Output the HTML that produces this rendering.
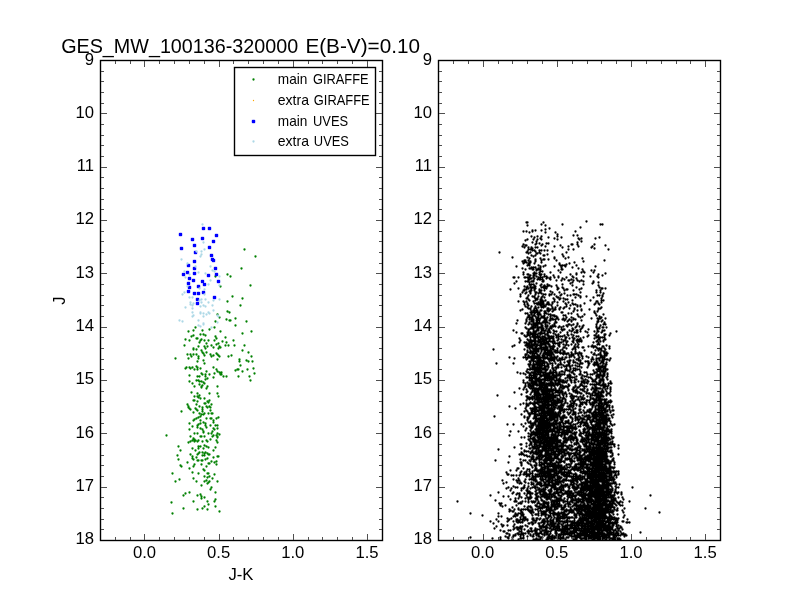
<!DOCTYPE html><html><head><meta charset="utf-8"><title>GES_MW_100136-320000</title>
<style>html,body{margin:0;padding:0;background:#fff;overflow:hidden}svg{display:block}text{font-family:"Liberation Sans",sans-serif;fill:#000}</style></head><body>
<svg width="800" height="600" viewBox="0 0 800 600">
<rect width="800" height="600" fill="#fff"/>
<g transform="translate(.5 .5)">
<path d="M457 501h0M470 513h0M470 537h0M482 515h0M490 495h0M490 521h0M492 538h0M493 349h0M493 523h0M494 416h0M494 528h0M495 460h0M495 500h0M496 363h0M496 519h0M496 526h0M497 395h0M498 449h0M498 492h0M498 513h0M498 516h0M498 521h0M499 252h0M499 503h0M500 505h0M500 530h0M500 537h0M500 539h0M501 503h0M501 516h0M501 524h0M502 480h0M502 506h0M502 526h0M503 483h0M503 496h0M503 525h0M503 531h0M504 531h0M505 505h0M505 536h0M506 472h0M506 482h0M506 488h0M506 533h0M507 424h0M507 474h0M507 518h0M507 521h0M507 525h0M507 533h0M507 537h0M508 462h0M508 474h0M508 487h0M508 496h0M508 520h0M508 530h0M508 537h0M508 538h0M509 357h0M509 406h0M509 435h0M509 456h0M509 509h0M509 511h0M509 519h0M509 534h0M509 535h0M510 289h0M510 431h0M510 470h0M510 490h0M510 499h0M510 510h0M510 530h0M511 475h0M511 488h0M511 518h0M512 257h0M512 346h0M512 493h0M512 507h0M512 511h0M512 537h0M512 539h0M513 277h0M513 330h0M513 363h0M513 424h0M513 475h0M513 479h0M513 486h0M513 492h0M513 511h0M513 516h0M513 521h0M513 526h0M513 529h0M513 535h0M513 536h0M514 277h0M514 283h0M514 345h0M514 358h0M514 392h0M514 447h0M514 501h0M514 509h0M514 515h0M514 524h0M514 528h0M515 408h0M515 487h0M515 498h0M515 500h0M515 501h0M515 513h0M515 516h0M515 534h0M515 535h0M516 266h0M516 281h0M516 323h0M516 332h0M516 470h0M516 475h0M516 480h0M516 494h0M516 501h0M516 505h0M516 514h0M516 519h0M516 520h0M516 521h0M516 527h0M517 320h0M517 372h0M517 468h0M517 482h0M517 487h0M517 493h0M517 514h0M517 515h0M517 519h0M517 522h0M517 527h0M517 529h0M517 533h0M518 277h0M518 288h0M518 301h0M518 431h0M518 468h0M518 478h0M518 480h0M518 498h0M518 503h0M518 508h0M518 509h0M518 513h0M518 520h0M518 522h0M518 529h0M518 533h0M518 534h0M518 539h0M519 338h0M519 342h0M519 388h0M519 454h0M519 475h0M519 480h0M519 483h0M519 493h0M519 494h0M519 495h0M519 496h0M519 520h0M519 527h0M519 531h0M520 294h0M520 296h0M520 310h0M520 340h0M520 373h0M520 404h0M520 444h0M520 459h0M520 462h0M520 472h0M520 474h0M520 482h0M520 502h0M520 503h0M520 510h0M520 513h0M520 517h0M520 519h0M520 522h0M520 526h0M520 528h0M520 534h0M520 536h0M520 538h0M521 333h0M521 394h0M521 414h0M521 424h0M521 437h0M521 444h0M521 448h0M521 452h0M521 453h0M521 454h0M521 462h0M521 463h0M521 464h0M521 465h0M521 471h0M521 483h0M521 488h0M521 490h0M521 497h0M521 503h0M521 509h0M521 511h0M521 514h0M521 515h0M521 528h0M521 529h0M521 531h0M521 532h0M521 534h0M521 538h0M522 246h0M522 261h0M522 268h0M522 292h0M522 309h0M522 333h0M522 453h0M522 501h0M522 512h0M522 515h0M522 519h0M522 521h0M522 522h0M522 526h0M522 533h0M523 231h0M523 244h0M523 263h0M523 272h0M523 274h0M523 290h0M523 301h0M523 357h0M523 373h0M523 380h0M523 382h0M523 389h0M523 403h0M523 426h0M523 454h0M523 460h0M523 468h0M523 474h0M523 487h0M523 488h0M523 509h0M523 514h0M523 516h0M523 517h0M523 518h0M523 533h0M523 535h0M523 537h0M523 538h0M524 247h0M524 260h0M524 262h0M524 277h0M524 286h0M524 289h0M524 290h0M524 302h0M524 304h0M524 335h0M524 342h0M524 349h0M524 387h0M524 411h0M524 416h0M524 417h0M524 437h0M524 450h0M524 451h0M524 455h0M524 472h0M524 474h0M524 481h0M524 485h0M524 487h0M524 493h0M524 506h0M524 520h0M524 529h0M525 240h0M525 245h0M525 260h0M525 269h0M525 277h0M525 281h0M525 293h0M525 306h0M525 313h0M525 323h0M525 327h0M525 336h0M525 345h0M525 354h0M525 355h0M525 357h0M525 374h0M525 383h0M525 385h0M525 386h0M525 408h0M525 423h0M525 430h0M525 460h0M525 479h0M525 482h0M525 498h0M525 501h0M525 509h0M525 517h0M525 518h0M525 519h0M525 525h0M525 533h0M526 222h0M526 231h0M526 245h0M526 252h0M526 262h0M526 287h0M526 289h0M526 292h0M526 298h0M526 301h0M526 319h0M526 320h0M526 321h0M526 328h0M526 336h0M526 342h0M526 343h0M526 345h0M526 354h0M526 359h0M526 371h0M526 377h0M526 389h0M526 392h0M526 396h0M526 400h0M526 403h0M526 404h0M526 406h0M526 410h0M526 428h0M526 443h0M526 446h0M526 451h0M526 455h0M526 471h0M526 473h0M526 474h0M526 476h0M526 490h0M526 495h0M527 222h0M527 225h0M527 239h0M527 251h0M527 257h0M527 265h0M527 274h0M527 277h0M527 281h0M527 286h0M527 297h0M527 303h0M527 304h0M527 307h0M527 313h0M527 317h0M527 332h0M527 334h0M527 335h0M527 339h0M527 343h0M527 347h0M527 350h0M527 351h0M527 352h0M527 357h0M527 358h0M527 369h0M527 372h0M527 377h0M527 382h0M527 391h0M527 396h0M527 397h0M527 398h0M527 404h0M527 411h0M527 417h0M527 419h0M527 420h0M527 456h0M527 462h0M527 469h0M527 475h0M527 488h0M527 489h0M527 490h0M527 491h0M527 493h0M527 497h0M527 507h0M527 509h0M527 519h0M527 520h0M527 526h0M527 531h0M527 536h0M528 247h0M528 249h0M528 253h0M528 260h0M528 263h0M528 274h0M528 277h0M528 279h0M528 281h0M528 288h0M528 295h0M528 299h0M528 305h0M528 308h0M528 315h0M528 316h0M528 324h0M528 329h0M528 330h0M528 331h0M528 333h0M528 340h0M528 343h0M528 345h0M528 355h0M528 364h0M528 372h0M528 384h0M528 385h0M528 386h0M528 398h0M528 405h0M528 413h0M528 418h0M528 422h0M528 433h0M528 436h0M528 439h0M528 451h0M528 463h0M528 474h0M528 483h0M528 486h0M528 492h0M528 498h0M528 499h0M528 501h0M528 502h0M528 506h0M528 509h0M528 510h0M528 523h0M528 530h0M528 533h0M529 232h0M529 258h0M529 262h0M529 264h0M529 265h0M529 268h0M529 276h0M529 279h0M529 282h0M529 284h0M529 291h0M529 300h0M529 315h0M529 316h0M529 317h0M529 319h0M529 322h0M529 323h0M529 329h0M529 335h0M529 341h0M529 342h0M529 343h0M529 346h0M529 348h0M529 352h0M529 356h0M529 357h0M529 361h0M529 364h0M529 366h0M529 369h0M529 373h0M529 375h0M529 377h0M529 378h0M529 380h0M529 383h0M529 387h0M529 397h0M529 399h0M529 403h0M529 413h0M529 415h0M529 416h0M529 426h0M529 440h0M529 445h0M529 448h0M529 456h0M529 460h0M529 469h0M529 471h0M529 474h0M529 476h0M529 479h0M529 491h0M529 493h0M529 497h0M529 498h0M529 511h0M529 523h0M529 531h0M530 249h0M530 252h0M530 261h0M530 262h0M530 268h0M530 275h0M530 278h0M530 286h0M530 287h0M530 290h0M530 292h0M530 293h0M530 308h0M530 309h0M530 312h0M530 328h0M530 332h0M530 334h0M530 337h0M530 339h0M530 345h0M530 347h0M530 350h0M530 351h0M530 352h0M530 353h0M530 357h0M530 361h0M530 362h0M530 364h0M530 368h0M530 369h0M530 373h0M530 374h0M530 380h0M530 384h0M530 385h0M530 388h0M530 394h0M530 398h0M530 402h0M530 403h0M530 408h0M530 414h0M530 421h0M530 422h0M530 423h0M530 427h0M530 430h0M530 434h0M530 436h0M530 438h0M530 441h0M530 443h0M530 448h0M530 452h0M530 453h0M530 461h0M530 464h0M530 473h0M530 488h0M530 492h0M530 493h0M530 494h0M530 495h0M530 498h0M530 506h0M530 507h0M530 510h0M530 512h0M530 528h0M530 534h0M530 535h0M531 236h0M531 247h0M531 249h0M531 255h0M531 267h0M531 278h0M531 281h0M531 284h0M531 288h0M531 290h0M531 306h0M531 311h0M531 313h0M531 314h0M531 317h0M531 318h0M531 320h0M531 321h0M531 324h0M531 327h0M531 328h0M531 333h0M531 340h0M531 341h0M531 342h0M531 344h0M531 345h0M531 347h0M531 351h0M531 356h0M531 357h0M531 358h0M531 359h0M531 360h0M531 372h0M531 375h0M531 377h0M531 378h0M531 379h0M531 380h0M531 381h0M531 382h0M531 386h0M531 392h0M531 397h0M531 410h0M531 412h0M531 425h0M531 428h0M531 432h0M531 435h0M531 442h0M531 443h0M531 444h0M531 451h0M531 452h0M531 457h0M531 458h0M531 459h0M531 465h0M531 478h0M531 479h0M531 482h0M531 484h0M531 497h0M531 501h0M531 507h0M531 511h0M531 513h0M531 522h0M531 528h0M531 530h0M531 531h0M532 230h0M532 231h0M532 242h0M532 248h0M532 250h0M532 269h0M532 281h0M532 287h0M532 296h0M532 312h0M532 316h0M532 317h0M532 318h0M532 321h0M532 326h0M532 328h0M532 334h0M532 336h0M532 341h0M532 344h0M532 345h0M532 347h0M532 348h0M532 352h0M532 354h0M532 355h0M532 359h0M532 360h0M532 365h0M532 366h0M532 367h0M532 369h0M532 372h0M532 378h0M532 380h0M532 381h0M532 382h0M532 383h0M532 385h0M532 388h0M532 389h0M532 390h0M532 391h0M532 396h0M532 397h0M532 399h0M532 403h0M532 408h0M532 409h0M532 410h0M532 411h0M532 413h0M532 423h0M532 427h0M532 434h0M532 438h0M532 439h0M532 446h0M532 447h0M532 450h0M532 455h0M532 458h0M532 467h0M532 471h0M532 473h0M532 475h0M532 476h0M532 487h0M532 493h0M532 502h0M532 509h0M532 510h0M532 515h0M532 518h0M532 519h0M532 522h0M532 524h0M532 531h0M532 536h0M533 239h0M533 256h0M533 267h0M533 269h0M533 273h0M533 275h0M533 276h0M533 277h0M533 280h0M533 281h0M533 284h0M533 287h0M533 301h0M533 310h0M533 315h0M533 319h0M533 320h0M533 321h0M533 323h0M533 325h0M533 327h0M533 329h0M533 331h0M533 332h0M533 333h0M533 335h0M533 337h0M533 340h0M533 345h0M533 348h0M533 349h0M533 350h0M533 351h0M533 352h0M533 355h0M533 356h0M533 357h0M533 358h0M533 359h0M533 360h0M533 361h0M533 363h0M533 366h0M533 367h0M533 372h0M533 373h0M533 375h0M533 377h0M533 381h0M533 382h0M533 384h0M533 385h0M533 386h0M533 403h0M533 404h0M533 408h0M533 418h0M533 423h0M533 425h0M533 431h0M533 432h0M533 434h0M533 437h0M533 439h0M533 440h0M533 441h0M533 448h0M533 452h0M533 453h0M533 456h0M533 457h0M533 459h0M533 461h0M533 476h0M533 477h0M533 479h0M533 480h0M533 483h0M533 484h0M533 501h0M533 512h0M533 518h0M533 520h0M533 523h0M533 534h0M533 536h0M533 539h0M534 237h0M534 250h0M534 263h0M534 272h0M534 273h0M534 275h0M534 278h0M534 285h0M534 286h0M534 287h0M534 288h0M534 289h0M534 290h0M534 296h0M534 297h0M534 303h0M534 308h0M534 310h0M534 312h0M534 313h0M534 315h0M534 323h0M534 327h0M534 331h0M534 333h0M534 334h0M534 336h0M534 338h0M534 339h0M534 340h0M534 341h0M534 343h0M534 344h0M534 345h0M534 348h0M534 349h0M534 350h0M534 353h0M534 355h0M534 356h0M534 357h0M534 358h0M534 364h0M534 365h0M534 368h0M534 369h0M534 370h0M534 371h0M534 372h0M534 373h0M534 375h0M534 377h0M534 378h0M534 382h0M534 384h0M534 388h0M534 390h0M534 392h0M534 394h0M534 396h0M534 398h0M534 401h0M534 404h0M534 406h0M534 407h0M534 408h0M534 409h0M534 411h0M534 413h0M534 414h0M534 416h0M534 422h0M534 433h0M534 434h0M534 437h0M534 440h0M534 441h0M534 442h0M534 444h0M534 446h0M534 447h0M534 448h0M534 453h0M534 460h0M534 465h0M534 470h0M534 479h0M534 486h0M534 487h0M534 502h0M534 520h0M534 530h0M535 230h0M535 244h0M535 247h0M535 251h0M535 255h0M535 259h0M535 260h0M535 261h0M535 267h0M535 273h0M535 286h0M535 288h0M535 292h0M535 294h0M535 298h0M535 300h0M535 306h0M535 312h0M535 316h0M535 323h0M535 324h0M535 325h0M535 327h0M535 332h0M535 333h0M535 334h0M535 336h0M535 337h0M535 338h0M535 340h0M535 342h0M535 346h0M535 348h0M535 349h0M535 351h0M535 356h0M535 361h0M535 364h0M535 367h0M535 370h0M535 371h0M535 372h0M535 373h0M535 375h0M535 376h0M535 378h0M535 380h0M535 381h0M535 382h0M535 383h0M535 384h0M535 388h0M535 389h0M535 391h0M535 393h0M535 394h0M535 399h0M535 402h0M535 403h0M535 406h0M535 409h0M535 412h0M535 413h0M535 414h0M535 415h0M535 417h0M535 418h0M535 420h0M535 422h0M535 423h0M535 424h0M535 429h0M535 432h0M535 433h0M535 434h0M535 435h0M535 439h0M535 440h0M535 441h0M535 442h0M535 446h0M535 451h0M535 453h0M535 459h0M535 462h0M535 465h0M535 466h0M535 468h0M535 474h0M535 476h0M535 478h0M535 479h0M535 481h0M535 486h0M535 488h0M535 491h0M535 494h0M535 498h0M535 501h0M535 505h0M535 509h0M535 514h0M535 522h0M535 528h0M535 530h0M535 532h0M535 533h0M535 539h0M536 241h0M536 243h0M536 253h0M536 269h0M536 270h0M536 273h0M536 276h0M536 283h0M536 292h0M536 299h0M536 303h0M536 308h0M536 310h0M536 318h0M536 320h0M536 322h0M536 323h0M536 330h0M536 331h0M536 344h0M536 346h0M536 348h0M536 350h0M536 351h0M536 352h0M536 353h0M536 357h0M536 358h0M536 362h0M536 363h0M536 364h0M536 367h0M536 369h0M536 373h0M536 376h0M536 378h0M536 380h0M536 382h0M536 385h0M536 388h0M536 391h0M536 392h0M536 393h0M536 395h0M536 397h0M536 399h0M536 407h0M536 408h0M536 411h0M536 416h0M536 418h0M536 420h0M536 421h0M536 426h0M536 428h0M536 430h0M536 431h0M536 432h0M536 434h0M536 440h0M536 444h0M536 445h0M536 448h0M536 449h0M536 451h0M536 452h0M536 454h0M536 457h0M536 458h0M536 459h0M536 463h0M536 464h0M536 465h0M536 468h0M536 469h0M536 470h0M536 476h0M536 480h0M536 484h0M536 490h0M536 493h0M536 495h0M536 496h0M536 498h0M536 499h0M536 505h0M536 506h0M536 514h0M536 518h0M536 520h0M536 530h0M536 531h0M536 534h0M536 535h0M536 538h0M537 236h0M537 239h0M537 247h0M537 253h0M537 269h0M537 279h0M537 298h0M537 299h0M537 304h0M537 310h0M537 312h0M537 314h0M537 317h0M537 318h0M537 319h0M537 320h0M537 322h0M537 324h0M537 325h0M537 326h0M537 328h0M537 329h0M537 334h0M537 336h0M537 337h0M537 341h0M537 344h0M537 345h0M537 349h0M537 354h0M537 355h0M537 356h0M537 360h0M537 362h0M537 363h0M537 365h0M537 366h0M537 367h0M537 369h0M537 371h0M537 374h0M537 379h0M537 384h0M537 385h0M537 389h0M537 393h0M537 396h0M537 397h0M537 398h0M537 399h0M537 401h0M537 402h0M537 403h0M537 410h0M537 414h0M537 420h0M537 425h0M537 428h0M537 429h0M537 431h0M537 432h0M537 434h0M537 435h0M537 436h0M537 437h0M537 440h0M537 441h0M537 442h0M537 445h0M537 446h0M537 453h0M537 457h0M537 471h0M537 474h0M537 475h0M537 476h0M537 482h0M537 484h0M537 487h0M537 493h0M537 497h0M537 499h0M537 503h0M537 506h0M537 509h0M537 518h0M537 529h0M537 533h0M537 539h0M538 265h0M538 268h0M538 269h0M538 277h0M538 293h0M538 296h0M538 302h0M538 303h0M538 304h0M538 307h0M538 312h0M538 314h0M538 316h0M538 318h0M538 323h0M538 327h0M538 329h0M538 330h0M538 333h0M538 336h0M538 337h0M538 339h0M538 342h0M538 348h0M538 350h0M538 351h0M538 355h0M538 356h0M538 358h0M538 359h0M538 360h0M538 363h0M538 367h0M538 369h0M538 370h0M538 371h0M538 372h0M538 378h0M538 379h0M538 381h0M538 388h0M538 389h0M538 390h0M538 391h0M538 392h0M538 394h0M538 395h0M538 398h0M538 400h0M538 401h0M538 404h0M538 407h0M538 410h0M538 411h0M538 415h0M538 418h0M538 422h0M538 423h0M538 424h0M538 425h0M538 426h0M538 427h0M538 429h0M538 432h0M538 433h0M538 437h0M538 439h0M538 442h0M538 447h0M538 448h0M538 450h0M538 452h0M538 455h0M538 458h0M538 470h0M538 471h0M538 476h0M538 483h0M538 489h0M538 496h0M538 501h0M538 502h0M538 508h0M538 511h0M538 513h0M538 515h0M538 523h0M538 534h0M538 536h0M538 539h0M539 243h0M539 250h0M539 252h0M539 269h0M539 272h0M539 274h0M539 279h0M539 289h0M539 290h0M539 292h0M539 303h0M539 312h0M539 313h0M539 314h0M539 320h0M539 322h0M539 323h0M539 327h0M539 333h0M539 336h0M539 340h0M539 341h0M539 345h0M539 348h0M539 355h0M539 356h0M539 359h0M539 360h0M539 361h0M539 362h0M539 363h0M539 364h0M539 365h0M539 367h0M539 368h0M539 369h0M539 371h0M539 374h0M539 377h0M539 379h0M539 380h0M539 382h0M539 383h0M539 385h0M539 387h0M539 388h0M539 389h0M539 393h0M539 397h0M539 398h0M539 399h0M539 400h0M539 402h0M539 405h0M539 406h0M539 407h0M539 408h0M539 410h0M539 413h0M539 418h0M539 419h0M539 421h0M539 424h0M539 426h0M539 427h0M539 430h0M539 431h0M539 433h0M539 434h0M539 436h0M539 438h0M539 441h0M539 442h0M539 443h0M539 444h0M539 445h0M539 447h0M539 450h0M539 454h0M539 456h0M539 458h0M539 459h0M539 460h0M539 462h0M539 464h0M539 465h0M539 473h0M539 474h0M539 482h0M539 484h0M539 488h0M539 491h0M539 492h0M539 503h0M539 506h0M539 507h0M539 519h0M539 523h0M539 525h0M539 526h0M539 529h0M539 533h0M539 536h0M539 539h0M540 238h0M540 253h0M540 258h0M540 266h0M540 267h0M540 269h0M540 271h0M540 274h0M540 275h0M540 277h0M540 279h0M540 285h0M540 292h0M540 299h0M540 300h0M540 301h0M540 303h0M540 305h0M540 310h0M540 314h0M540 318h0M540 323h0M540 327h0M540 332h0M540 334h0M540 337h0M540 339h0M540 341h0M540 343h0M540 346h0M540 347h0M540 348h0M540 353h0M540 357h0M540 358h0M540 359h0M540 360h0M540 361h0M540 363h0M540 365h0M540 366h0M540 367h0M540 369h0M540 372h0M540 373h0M540 374h0M540 376h0M540 379h0M540 380h0M540 381h0M540 382h0M540 384h0M540 386h0M540 387h0M540 389h0M540 394h0M540 395h0M540 396h0M540 398h0M540 401h0M540 402h0M540 405h0M540 407h0M540 409h0M540 415h0M540 417h0M540 419h0M540 421h0M540 422h0M540 423h0M540 424h0M540 425h0M540 426h0M540 427h0M540 428h0M540 429h0M540 430h0M540 432h0M540 433h0M540 436h0M540 438h0M540 440h0M540 442h0M540 443h0M540 444h0M540 446h0M540 450h0M540 452h0M540 454h0M540 455h0M540 465h0M540 469h0M540 470h0M540 472h0M540 476h0M540 478h0M540 479h0M540 482h0M540 484h0M540 485h0M540 490h0M540 491h0M540 492h0M540 494h0M540 497h0M540 504h0M540 507h0M540 508h0M540 510h0M540 518h0M540 526h0M540 528h0M540 531h0M540 537h0M540 538h0M540 539h0M541 224h0M541 230h0M541 236h0M541 239h0M541 245h0M541 250h0M541 260h0M541 262h0M541 274h0M541 284h0M541 287h0M541 290h0M541 293h0M541 297h0M541 298h0M541 300h0M541 302h0M541 303h0M541 304h0M541 305h0M541 307h0M541 310h0M541 316h0M541 323h0M541 324h0M541 325h0M541 327h0M541 328h0M541 329h0M541 331h0M541 333h0M541 338h0M541 341h0M541 343h0M541 345h0M541 347h0M541 349h0M541 350h0M541 351h0M541 360h0M541 363h0M541 365h0M541 366h0M541 367h0M541 370h0M541 371h0M541 375h0M541 376h0M541 380h0M541 382h0M541 384h0M541 385h0M541 387h0M541 388h0M541 390h0M541 391h0M541 394h0M541 398h0M541 399h0M541 401h0M541 402h0M541 406h0M541 407h0M541 408h0M541 410h0M541 411h0M541 412h0M541 413h0M541 416h0M541 417h0M541 418h0M541 420h0M541 421h0M541 422h0M541 423h0M541 424h0M541 425h0M541 427h0M541 428h0M541 429h0M541 432h0M541 433h0M541 434h0M541 435h0M541 436h0M541 440h0M541 443h0M541 446h0M541 451h0M541 453h0M541 457h0M541 459h0M541 462h0M541 464h0M541 465h0M541 466h0M541 467h0M541 468h0M541 470h0M541 471h0M541 472h0M541 473h0M541 475h0M541 479h0M541 480h0M541 483h0M541 485h0M541 486h0M541 489h0M541 496h0M541 499h0M541 500h0M541 504h0M541 511h0M541 512h0M541 513h0M541 515h0M541 522h0M541 526h0M541 528h0M541 531h0M541 533h0M541 537h0M542 244h0M542 271h0M542 277h0M542 279h0M542 281h0M542 296h0M542 300h0M542 302h0M542 306h0M542 317h0M542 322h0M542 325h0M542 326h0M542 327h0M542 328h0M542 330h0M542 333h0M542 336h0M542 339h0M542 340h0M542 343h0M542 344h0M542 349h0M542 355h0M542 357h0M542 361h0M542 363h0M542 365h0M542 368h0M542 372h0M542 375h0M542 379h0M542 383h0M542 385h0M542 389h0M542 391h0M542 392h0M542 393h0M542 394h0M542 397h0M542 398h0M542 401h0M542 403h0M542 404h0M542 405h0M542 406h0M542 407h0M542 408h0M542 410h0M542 412h0M542 415h0M542 417h0M542 418h0M542 421h0M542 422h0M542 424h0M542 425h0M542 426h0M542 427h0M542 429h0M542 430h0M542 431h0M542 433h0M542 434h0M542 435h0M542 436h0M542 438h0M542 439h0M542 442h0M542 443h0M542 447h0M542 448h0M542 449h0M542 450h0M542 451h0M542 455h0M542 457h0M542 463h0M542 467h0M542 468h0M542 469h0M542 471h0M542 472h0M542 475h0M542 476h0M542 477h0M542 479h0M542 491h0M542 494h0M542 495h0M542 496h0M542 500h0M542 505h0M542 506h0M542 507h0M542 508h0M542 513h0M542 520h0M542 525h0M542 530h0M542 534h0M542 537h0M543 222h0M543 255h0M543 259h0M543 266h0M543 280h0M543 281h0M543 286h0M543 287h0M543 294h0M543 301h0M543 303h0M543 304h0M543 307h0M543 316h0M543 317h0M543 321h0M543 322h0M543 328h0M543 330h0M543 338h0M543 341h0M543 342h0M543 344h0M543 347h0M543 348h0M543 353h0M543 355h0M543 356h0M543 358h0M543 360h0M543 362h0M543 369h0M543 372h0M543 374h0M543 375h0M543 379h0M543 382h0M543 384h0M543 387h0M543 389h0M543 390h0M543 392h0M543 393h0M543 394h0M543 396h0M543 398h0M543 400h0M543 403h0M543 404h0M543 406h0M543 407h0M543 408h0M543 409h0M543 410h0M543 411h0M543 412h0M543 414h0M543 415h0M543 417h0M543 419h0M543 420h0M543 421h0M543 422h0M543 423h0M543 426h0M543 427h0M543 428h0M543 429h0M543 430h0M543 432h0M543 434h0M543 435h0M543 436h0M543 437h0M543 438h0M543 441h0M543 442h0M543 443h0M543 445h0M543 446h0M543 447h0M543 449h0M543 456h0M543 460h0M543 463h0M543 464h0M543 471h0M543 472h0M543 474h0M543 475h0M543 479h0M543 481h0M543 485h0M543 488h0M543 489h0M543 491h0M543 492h0M543 495h0M543 501h0M543 502h0M543 503h0M543 511h0M543 513h0M543 514h0M543 519h0M543 520h0M543 522h0M543 524h0M543 526h0M543 527h0M543 530h0M544 250h0M544 255h0M544 259h0M544 274h0M544 276h0M544 285h0M544 287h0M544 288h0M544 290h0M544 297h0M544 305h0M544 306h0M544 311h0M544 313h0M544 315h0M544 317h0M544 318h0M544 320h0M544 321h0M544 332h0M544 333h0M544 336h0M544 339h0M544 340h0M544 343h0M544 344h0M544 348h0M544 349h0M544 350h0M544 351h0M544 355h0M544 356h0M544 358h0M544 361h0M544 363h0M544 365h0M544 367h0M544 368h0M544 369h0M544 374h0M544 376h0M544 378h0M544 379h0M544 380h0M544 381h0M544 382h0M544 384h0M544 385h0M544 386h0M544 387h0M544 388h0M544 389h0M544 390h0M544 392h0M544 396h0M544 397h0M544 398h0M544 400h0M544 401h0M544 403h0M544 404h0M544 406h0M544 407h0M544 409h0M544 411h0M544 413h0M544 414h0M544 416h0M544 418h0M544 420h0M544 422h0M544 424h0M544 425h0M544 426h0M544 427h0M544 428h0M544 431h0M544 434h0M544 435h0M544 437h0M544 438h0M544 439h0M544 442h0M544 443h0M544 444h0M544 447h0M544 448h0M544 449h0M544 450h0M544 455h0M544 459h0M544 461h0M544 463h0M544 465h0M544 466h0M544 467h0M544 469h0M544 472h0M544 474h0M544 475h0M544 476h0M544 482h0M544 483h0M544 485h0M544 489h0M544 490h0M544 491h0M544 493h0M544 494h0M544 495h0M544 496h0M544 497h0M544 501h0M544 503h0M544 504h0M544 505h0M544 506h0M544 507h0M544 511h0M544 514h0M544 519h0M544 521h0M544 523h0M544 532h0M544 533h0M544 535h0M545 225h0M545 229h0M545 232h0M545 246h0M545 265h0M545 286h0M545 294h0M545 300h0M545 306h0M545 311h0M545 318h0M545 321h0M545 322h0M545 323h0M545 324h0M545 326h0M545 330h0M545 334h0M545 337h0M545 339h0M545 342h0M545 343h0M545 344h0M545 346h0M545 347h0M545 349h0M545 350h0M545 352h0M545 353h0M545 357h0M545 358h0M545 366h0M545 367h0M545 368h0M545 369h0M545 371h0M545 372h0M545 373h0M545 375h0M545 376h0M545 378h0M545 379h0M545 380h0M545 384h0M545 385h0M545 386h0M545 387h0M545 390h0M545 392h0M545 394h0M545 395h0M545 397h0M545 399h0M545 400h0M545 401h0M545 402h0M545 403h0M545 405h0M545 406h0M545 411h0M545 413h0M545 414h0M545 415h0M545 417h0M545 421h0M545 422h0M545 426h0M545 427h0M545 430h0M545 431h0M545 432h0M545 434h0M545 435h0M545 436h0M545 437h0M545 440h0M545 441h0M545 444h0M545 446h0M545 447h0M545 448h0M545 451h0M545 453h0M545 454h0M545 455h0M545 456h0M545 458h0M545 460h0M545 461h0M545 466h0M545 468h0M545 471h0M545 472h0M545 473h0M545 476h0M545 477h0M545 479h0M545 482h0M545 484h0M545 487h0M545 489h0M545 492h0M545 493h0M545 496h0M545 497h0M545 502h0M545 506h0M545 511h0M545 513h0M545 514h0M545 516h0M545 521h0M545 526h0M545 527h0M545 529h0M545 530h0M545 531h0M546 243h0M546 276h0M546 278h0M546 288h0M546 304h0M546 313h0M546 319h0M546 320h0M546 328h0M546 338h0M546 339h0M546 341h0M546 343h0M546 346h0M546 347h0M546 349h0M546 353h0M546 354h0M546 357h0M546 362h0M546 366h0M546 370h0M546 374h0M546 375h0M546 376h0M546 383h0M546 384h0M546 387h0M546 389h0M546 390h0M546 391h0M546 393h0M546 395h0M546 397h0M546 398h0M546 399h0M546 400h0M546 404h0M546 407h0M546 408h0M546 411h0M546 415h0M546 417h0M546 418h0M546 420h0M546 421h0M546 422h0M546 423h0M546 424h0M546 425h0M546 426h0M546 427h0M546 428h0M546 431h0M546 432h0M546 437h0M546 439h0M546 440h0M546 441h0M546 442h0M546 444h0M546 446h0M546 448h0M546 449h0M546 450h0M546 452h0M546 455h0M546 457h0M546 458h0M546 460h0M546 462h0M546 463h0M546 475h0M546 476h0M546 477h0M546 481h0M546 484h0M546 485h0M546 493h0M546 494h0M546 495h0M546 496h0M546 497h0M546 499h0M546 502h0M546 503h0M546 507h0M546 509h0M546 510h0M546 511h0M546 514h0M546 518h0M546 525h0M546 528h0M546 529h0M546 531h0M546 532h0M546 534h0M546 539h0M547 250h0M547 254h0M547 277h0M547 284h0M547 286h0M547 302h0M547 308h0M547 309h0M547 310h0M547 317h0M547 322h0M547 325h0M547 326h0M547 331h0M547 333h0M547 335h0M547 338h0M547 342h0M547 343h0M547 347h0M547 348h0M547 349h0M547 350h0M547 352h0M547 353h0M547 355h0M547 357h0M547 358h0M547 363h0M547 364h0M547 366h0M547 369h0M547 373h0M547 375h0M547 376h0M547 377h0M547 378h0M547 380h0M547 386h0M547 388h0M547 389h0M547 391h0M547 393h0M547 395h0M547 396h0M547 398h0M547 400h0M547 401h0M547 402h0M547 404h0M547 405h0M547 407h0M547 410h0M547 411h0M547 413h0M547 415h0M547 418h0M547 419h0M547 420h0M547 422h0M547 426h0M547 428h0M547 430h0M547 432h0M547 434h0M547 435h0M547 437h0M547 438h0M547 440h0M547 441h0M547 443h0M547 444h0M547 445h0M547 450h0M547 452h0M547 454h0M547 457h0M547 459h0M547 460h0M547 464h0M547 465h0M547 466h0M547 467h0M547 469h0M547 470h0M547 471h0M547 472h0M547 473h0M547 474h0M547 480h0M547 481h0M547 487h0M547 494h0M547 495h0M547 496h0M547 497h0M547 499h0M547 504h0M547 506h0M547 509h0M547 510h0M547 518h0M547 520h0M547 522h0M547 524h0M547 527h0M547 531h0M547 532h0M547 533h0M547 537h0M547 538h0M547 539h0M548 237h0M548 243h0M548 259h0M548 285h0M548 302h0M548 304h0M548 308h0M548 311h0M548 314h0M548 329h0M548 332h0M548 335h0M548 336h0M548 338h0M548 341h0M548 343h0M548 344h0M548 350h0M548 353h0M548 354h0M548 358h0M548 359h0M548 364h0M548 366h0M548 367h0M548 373h0M548 376h0M548 380h0M548 383h0M548 384h0M548 389h0M548 393h0M548 395h0M548 396h0M548 397h0M548 398h0M548 399h0M548 401h0M548 402h0M548 403h0M548 404h0M548 406h0M548 407h0M548 408h0M548 411h0M548 413h0M548 414h0M548 419h0M548 422h0M548 424h0M548 425h0M548 427h0M548 430h0M548 431h0M548 432h0M548 434h0M548 435h0M548 436h0M548 437h0M548 440h0M548 441h0M548 443h0M548 444h0M548 445h0M548 446h0M548 447h0M548 448h0M548 450h0M548 451h0M548 452h0M548 453h0M548 455h0M548 457h0M548 463h0M548 466h0M548 467h0M548 470h0M548 473h0M548 474h0M548 475h0M548 476h0M548 478h0M548 480h0M548 481h0M548 483h0M548 484h0M548 485h0M548 490h0M548 496h0M548 497h0M548 498h0M548 502h0M548 503h0M548 505h0M548 506h0M548 508h0M548 509h0M548 515h0M548 517h0M548 521h0M548 524h0M548 531h0M548 535h0M548 536h0M548 537h0M548 538h0M548 539h0M549 228h0M549 278h0M549 285h0M549 294h0M549 295h0M549 304h0M549 310h0M549 320h0M549 323h0M549 328h0M549 330h0M549 336h0M549 339h0M549 340h0M549 344h0M549 346h0M549 350h0M549 351h0M549 352h0M549 354h0M549 355h0M549 358h0M549 361h0M549 372h0M549 373h0M549 375h0M549 376h0M549 377h0M549 378h0M549 379h0M549 385h0M549 389h0M549 391h0M549 392h0M549 393h0M549 394h0M549 396h0M549 398h0M549 401h0M549 404h0M549 405h0M549 408h0M549 409h0M549 410h0M549 411h0M549 412h0M549 414h0M549 415h0M549 417h0M549 421h0M549 422h0M549 423h0M549 424h0M549 426h0M549 429h0M549 431h0M549 438h0M549 441h0M549 444h0M549 446h0M549 450h0M549 453h0M549 454h0M549 455h0M549 457h0M549 458h0M549 459h0M549 460h0M549 463h0M549 464h0M549 469h0M549 470h0M549 471h0M549 472h0M549 473h0M549 475h0M549 476h0M549 477h0M549 479h0M549 481h0M549 482h0M549 484h0M549 485h0M549 491h0M549 493h0M549 494h0M549 496h0M549 498h0M549 508h0M549 510h0M549 511h0M549 512h0M549 516h0M549 525h0M549 528h0M549 534h0M549 536h0M550 272h0M550 277h0M550 279h0M550 291h0M550 309h0M550 314h0M550 316h0M550 318h0M550 320h0M550 326h0M550 332h0M550 338h0M550 341h0M550 346h0M550 347h0M550 348h0M550 349h0M550 351h0M550 353h0M550 354h0M550 357h0M550 359h0M550 363h0M550 370h0M550 371h0M550 372h0M550 373h0M550 377h0M550 378h0M550 381h0M550 382h0M550 383h0M550 384h0M550 385h0M550 389h0M550 390h0M550 391h0M550 394h0M550 395h0M550 396h0M550 398h0M550 400h0M550 408h0M550 410h0M550 411h0M550 412h0M550 414h0M550 415h0M550 416h0M550 418h0M550 419h0M550 420h0M550 423h0M550 425h0M550 427h0M550 428h0M550 430h0M550 431h0M550 437h0M550 438h0M550 440h0M550 442h0M550 443h0M550 445h0M550 446h0M550 447h0M550 448h0M550 450h0M550 453h0M550 454h0M550 455h0M550 456h0M550 458h0M550 459h0M550 460h0M550 462h0M550 466h0M550 469h0M550 472h0M550 473h0M550 474h0M550 476h0M550 477h0M550 478h0M550 485h0M550 489h0M550 492h0M550 499h0M550 507h0M550 508h0M550 510h0M550 511h0M550 513h0M550 515h0M550 519h0M550 520h0M550 522h0M550 523h0M550 527h0M550 531h0M550 533h0M550 538h0M551 286h0M551 294h0M551 305h0M551 327h0M551 328h0M551 336h0M551 337h0M551 350h0M551 351h0M551 353h0M551 355h0M551 357h0M551 360h0M551 372h0M551 376h0M551 377h0M551 378h0M551 379h0M551 380h0M551 383h0M551 385h0M551 386h0M551 387h0M551 389h0M551 391h0M551 394h0M551 397h0M551 400h0M551 401h0M551 402h0M551 404h0M551 405h0M551 407h0M551 409h0M551 410h0M551 411h0M551 412h0M551 413h0M551 414h0M551 416h0M551 417h0M551 418h0M551 420h0M551 423h0M551 424h0M551 425h0M551 429h0M551 430h0M551 431h0M551 434h0M551 435h0M551 436h0M551 438h0M551 439h0M551 441h0M551 443h0M551 445h0M551 448h0M551 449h0M551 450h0M551 452h0M551 456h0M551 457h0M551 458h0M551 461h0M551 464h0M551 469h0M551 470h0M551 471h0M551 474h0M551 477h0M551 480h0M551 482h0M551 485h0M551 486h0M551 488h0M551 490h0M551 491h0M551 494h0M551 495h0M551 497h0M551 501h0M551 502h0M551 504h0M551 505h0M551 506h0M551 508h0M551 509h0M551 517h0M551 522h0M551 524h0M551 526h0M551 529h0M551 530h0M551 536h0M551 537h0M551 539h0M552 251h0M552 292h0M552 302h0M552 303h0M552 307h0M552 308h0M552 311h0M552 315h0M552 318h0M552 319h0M552 325h0M552 326h0M552 337h0M552 338h0M552 341h0M552 342h0M552 346h0M552 348h0M552 352h0M552 357h0M552 358h0M552 359h0M552 363h0M552 365h0M552 367h0M552 368h0M552 372h0M552 374h0M552 377h0M552 378h0M552 379h0M552 382h0M552 383h0M552 384h0M552 390h0M552 392h0M552 394h0M552 396h0M552 397h0M552 399h0M552 403h0M552 408h0M552 410h0M552 412h0M552 413h0M552 414h0M552 419h0M552 423h0M552 425h0M552 431h0M552 433h0M552 434h0M552 437h0M552 439h0M552 441h0M552 442h0M552 444h0M552 446h0M552 448h0M552 449h0M552 454h0M552 460h0M552 463h0M552 465h0M552 466h0M552 470h0M552 471h0M552 476h0M552 477h0M552 478h0M552 479h0M552 480h0M552 481h0M552 482h0M552 483h0M552 484h0M552 486h0M552 496h0M552 500h0M552 504h0M552 506h0M552 510h0M552 513h0M552 520h0M552 523h0M552 524h0M552 525h0M552 529h0M552 535h0M552 537h0M552 539h0M553 275h0M553 298h0M553 310h0M553 315h0M553 319h0M553 326h0M553 330h0M553 333h0M553 336h0M553 338h0M553 339h0M553 343h0M553 345h0M553 347h0M553 349h0M553 354h0M553 357h0M553 360h0M553 368h0M553 369h0M553 370h0M553 372h0M553 374h0M553 375h0M553 378h0M553 383h0M553 385h0M553 389h0M553 390h0M553 393h0M553 395h0M553 397h0M553 398h0M553 399h0M553 400h0M553 402h0M553 403h0M553 405h0M553 406h0M553 409h0M553 410h0M553 411h0M553 414h0M553 415h0M553 416h0M553 417h0M553 418h0M553 422h0M553 423h0M553 424h0M553 425h0M553 426h0M553 428h0M553 429h0M553 430h0M553 435h0M553 437h0M553 439h0M553 440h0M553 441h0M553 442h0M553 443h0M553 446h0M553 448h0M553 449h0M553 450h0M553 451h0M553 452h0M553 453h0M553 454h0M553 458h0M553 460h0M553 464h0M553 465h0M553 467h0M553 468h0M553 469h0M553 471h0M553 474h0M553 476h0M553 477h0M553 483h0M553 484h0M553 486h0M553 487h0M553 493h0M553 494h0M553 501h0M553 503h0M553 505h0M553 511h0M553 512h0M553 514h0M553 515h0M553 519h0M553 521h0M553 522h0M553 523h0M553 525h0M553 527h0M553 529h0M554 238h0M554 246h0M554 257h0M554 258h0M554 266h0M554 277h0M554 294h0M554 299h0M554 301h0M554 309h0M554 315h0M554 316h0M554 323h0M554 324h0M554 331h0M554 341h0M554 346h0M554 351h0M554 356h0M554 357h0M554 359h0M554 361h0M554 375h0M554 377h0M554 380h0M554 385h0M554 386h0M554 396h0M554 401h0M554 403h0M554 406h0M554 407h0M554 409h0M554 413h0M554 415h0M554 416h0M554 418h0M554 419h0M554 420h0M554 424h0M554 425h0M554 426h0M554 427h0M554 428h0M554 429h0M554 430h0M554 431h0M554 434h0M554 436h0M554 438h0M554 439h0M554 440h0M554 441h0M554 443h0M554 446h0M554 447h0M554 448h0M554 451h0M554 455h0M554 456h0M554 457h0M554 458h0M554 463h0M554 464h0M554 465h0M554 467h0M554 468h0M554 470h0M554 472h0M554 474h0M554 475h0M554 477h0M554 480h0M554 485h0M554 486h0M554 488h0M554 489h0M554 492h0M554 495h0M554 497h0M554 500h0M554 502h0M554 504h0M554 506h0M554 507h0M554 509h0M554 512h0M554 514h0M554 517h0M554 523h0M554 525h0M554 526h0M554 536h0M554 537h0M554 538h0M555 232h0M555 307h0M555 309h0M555 319h0M555 321h0M555 322h0M555 326h0M555 334h0M555 343h0M555 350h0M555 352h0M555 363h0M555 367h0M555 370h0M555 372h0M555 375h0M555 381h0M555 382h0M555 384h0M555 388h0M555 390h0M555 392h0M555 395h0M555 397h0M555 400h0M555 401h0M555 403h0M555 404h0M555 407h0M555 412h0M555 413h0M555 415h0M555 417h0M555 420h0M555 421h0M555 423h0M555 427h0M555 432h0M555 434h0M555 436h0M555 438h0M555 440h0M555 443h0M555 445h0M555 447h0M555 448h0M555 451h0M555 453h0M555 454h0M555 456h0M555 463h0M555 465h0M555 468h0M555 469h0M555 472h0M555 475h0M555 479h0M555 480h0M555 481h0M555 482h0M555 483h0M555 484h0M555 486h0M555 493h0M555 496h0M555 500h0M555 504h0M555 505h0M555 506h0M555 509h0M555 513h0M555 514h0M555 523h0M555 528h0M555 529h0M555 530h0M555 531h0M555 532h0M555 533h0M555 537h0M556 260h0M556 280h0M556 285h0M556 296h0M556 316h0M556 318h0M556 322h0M556 331h0M556 335h0M556 337h0M556 352h0M556 357h0M556 358h0M556 367h0M556 368h0M556 372h0M556 373h0M556 376h0M556 377h0M556 378h0M556 380h0M556 383h0M556 384h0M556 390h0M556 395h0M556 401h0M556 405h0M556 413h0M556 414h0M556 416h0M556 417h0M556 421h0M556 423h0M556 424h0M556 427h0M556 428h0M556 431h0M556 432h0M556 436h0M556 438h0M556 439h0M556 440h0M556 442h0M556 443h0M556 444h0M556 445h0M556 448h0M556 450h0M556 456h0M556 458h0M556 461h0M556 465h0M556 467h0M556 469h0M556 470h0M556 472h0M556 473h0M556 481h0M556 482h0M556 483h0M556 488h0M556 489h0M556 491h0M556 497h0M556 498h0M556 501h0M556 503h0M556 506h0M556 508h0M556 514h0M556 518h0M556 519h0M556 521h0M556 526h0M556 530h0M556 532h0M556 534h0M556 535h0M557 234h0M557 236h0M557 239h0M557 287h0M557 289h0M557 297h0M557 302h0M557 305h0M557 317h0M557 340h0M557 343h0M557 348h0M557 350h0M557 351h0M557 352h0M557 356h0M557 360h0M557 365h0M557 366h0M557 375h0M557 383h0M557 385h0M557 391h0M557 392h0M557 395h0M557 398h0M557 399h0M557 401h0M557 403h0M557 408h0M557 415h0M557 417h0M557 418h0M557 419h0M557 420h0M557 423h0M557 426h0M557 428h0M557 430h0M557 432h0M557 435h0M557 436h0M557 438h0M557 439h0M557 440h0M557 441h0M557 442h0M557 443h0M557 444h0M557 446h0M557 447h0M557 448h0M557 451h0M557 454h0M557 455h0M557 457h0M557 458h0M557 462h0M557 465h0M557 475h0M557 476h0M557 477h0M557 479h0M557 481h0M557 482h0M557 484h0M557 488h0M557 489h0M557 490h0M557 491h0M557 492h0M557 493h0M557 498h0M557 499h0M557 500h0M557 501h0M557 503h0M557 504h0M557 508h0M557 513h0M557 514h0M557 516h0M557 518h0M557 519h0M557 520h0M557 524h0M557 526h0M557 528h0M557 534h0M557 538h0M558 270h0M558 276h0M558 277h0M558 288h0M558 297h0M558 319h0M558 327h0M558 334h0M558 336h0M558 338h0M558 339h0M558 345h0M558 360h0M558 364h0M558 365h0M558 367h0M558 374h0M558 375h0M558 379h0M558 380h0M558 381h0M558 384h0M558 390h0M558 392h0M558 399h0M558 400h0M558 402h0M558 406h0M558 412h0M558 414h0M558 423h0M558 429h0M558 432h0M558 434h0M558 435h0M558 441h0M558 448h0M558 449h0M558 452h0M558 455h0M558 458h0M558 459h0M558 462h0M558 463h0M558 465h0M558 467h0M558 468h0M558 471h0M558 473h0M558 476h0M558 477h0M558 478h0M558 481h0M558 482h0M558 483h0M558 484h0M558 489h0M558 492h0M558 493h0M558 494h0M558 495h0M558 498h0M558 499h0M558 504h0M558 505h0M558 506h0M558 512h0M558 513h0M558 515h0M558 517h0M558 518h0M558 522h0M558 523h0M558 524h0M558 525h0M558 526h0M558 530h0M558 536h0M558 538h0M559 263h0M559 264h0M559 292h0M559 299h0M559 308h0M559 309h0M559 326h0M559 342h0M559 343h0M559 344h0M559 346h0M559 352h0M559 358h0M559 372h0M559 373h0M559 374h0M559 378h0M559 379h0M559 382h0M559 383h0M559 388h0M559 389h0M559 394h0M559 395h0M559 399h0M559 402h0M559 406h0M559 407h0M559 409h0M559 411h0M559 415h0M559 416h0M559 422h0M559 424h0M559 425h0M559 427h0M559 429h0M559 430h0M559 432h0M559 440h0M559 442h0M559 445h0M559 446h0M559 449h0M559 451h0M559 453h0M559 454h0M559 461h0M559 462h0M559 465h0M559 470h0M559 472h0M559 476h0M559 477h0M559 480h0M559 482h0M559 487h0M559 495h0M559 498h0M559 499h0M559 501h0M559 503h0M559 504h0M559 505h0M559 506h0M559 514h0M559 517h0M559 520h0M559 523h0M559 526h0M559 528h0M559 529h0M559 530h0M559 534h0M560 245h0M560 265h0M560 272h0M560 295h0M560 298h0M560 307h0M560 332h0M560 336h0M560 350h0M560 352h0M560 353h0M560 360h0M560 362h0M560 364h0M560 376h0M560 379h0M560 381h0M560 384h0M560 386h0M560 387h0M560 391h0M560 392h0M560 397h0M560 400h0M560 405h0M560 406h0M560 407h0M560 409h0M560 411h0M560 413h0M560 417h0M560 418h0M560 419h0M560 422h0M560 424h0M560 427h0M560 428h0M560 429h0M560 435h0M560 440h0M560 442h0M560 445h0M560 449h0M560 450h0M560 459h0M560 462h0M560 465h0M560 467h0M560 469h0M560 470h0M560 472h0M560 478h0M560 481h0M560 482h0M560 486h0M560 489h0M560 490h0M560 491h0M560 492h0M560 497h0M560 499h0M560 513h0M560 516h0M560 518h0M560 521h0M560 534h0M560 535h0M560 537h0M560 538h0M560 539h0M561 237h0M561 267h0M561 269h0M561 280h0M561 294h0M561 312h0M561 327h0M561 329h0M561 339h0M561 342h0M561 358h0M561 364h0M561 367h0M561 371h0M561 374h0M561 381h0M561 387h0M561 390h0M561 391h0M561 392h0M561 400h0M561 402h0M561 403h0M561 404h0M561 406h0M561 407h0M561 410h0M561 417h0M561 418h0M561 419h0M561 420h0M561 426h0M561 429h0M561 432h0M561 434h0M561 435h0M561 436h0M561 443h0M561 444h0M561 445h0M561 447h0M561 448h0M561 449h0M561 450h0M561 452h0M561 453h0M561 456h0M561 457h0M561 459h0M561 461h0M561 465h0M561 468h0M561 469h0M561 470h0M561 472h0M561 474h0M561 477h0M561 481h0M561 484h0M561 485h0M561 488h0M561 490h0M561 492h0M561 495h0M561 496h0M561 499h0M561 500h0M561 505h0M561 507h0M561 509h0M561 512h0M561 521h0M561 524h0M561 529h0M561 530h0M561 531h0M561 532h0M561 534h0M562 224h0M562 247h0M562 254h0M562 265h0M562 269h0M562 278h0M562 284h0M562 287h0M562 312h0M562 319h0M562 330h0M562 336h0M562 349h0M562 353h0M562 357h0M562 359h0M562 371h0M562 374h0M562 380h0M562 381h0M562 382h0M562 385h0M562 388h0M562 391h0M562 392h0M562 394h0M562 398h0M562 399h0M562 401h0M562 404h0M562 407h0M562 409h0M562 416h0M562 417h0M562 420h0M562 422h0M562 431h0M562 432h0M562 434h0M562 443h0M562 446h0M562 448h0M562 451h0M562 455h0M562 456h0M562 457h0M562 467h0M562 468h0M562 469h0M562 472h0M562 474h0M562 480h0M562 481h0M562 485h0M562 486h0M562 493h0M562 500h0M562 508h0M562 509h0M562 514h0M562 516h0M562 517h0M562 518h0M562 521h0M562 525h0M562 526h0M562 527h0M562 528h0M562 530h0M562 537h0M562 538h0M563 256h0M563 288h0M563 298h0M563 301h0M563 308h0M563 315h0M563 318h0M563 326h0M563 329h0M563 340h0M563 341h0M563 344h0M563 347h0M563 351h0M563 354h0M563 365h0M563 380h0M563 382h0M563 386h0M563 388h0M563 395h0M563 397h0M563 398h0M563 405h0M563 411h0M563 412h0M563 415h0M563 416h0M563 418h0M563 423h0M563 424h0M563 426h0M563 427h0M563 429h0M563 432h0M563 438h0M563 441h0M563 442h0M563 443h0M563 445h0M563 446h0M563 449h0M563 452h0M563 456h0M563 461h0M563 467h0M563 473h0M563 475h0M563 479h0M563 482h0M563 485h0M563 487h0M563 489h0M563 490h0M563 494h0M563 500h0M563 502h0M563 507h0M563 508h0M563 512h0M563 514h0M563 517h0M563 518h0M563 523h0M563 528h0M563 530h0M563 531h0M563 532h0M563 533h0M563 534h0M563 535h0M563 537h0M563 538h0M564 265h0M564 279h0M564 290h0M564 293h0M564 307h0M564 320h0M564 329h0M564 335h0M564 347h0M564 351h0M564 352h0M564 353h0M564 359h0M564 362h0M564 366h0M564 372h0M564 374h0M564 382h0M564 387h0M564 393h0M564 398h0M564 403h0M564 409h0M564 411h0M564 415h0M564 416h0M564 426h0M564 427h0M564 430h0M564 431h0M564 433h0M564 435h0M564 436h0M564 440h0M564 441h0M564 450h0M564 451h0M564 452h0M564 453h0M564 454h0M564 461h0M564 462h0M564 466h0M564 469h0M564 471h0M564 472h0M564 474h0M564 476h0M564 479h0M564 480h0M564 493h0M564 498h0M564 501h0M564 505h0M564 507h0M564 510h0M564 512h0M564 514h0M564 515h0M564 516h0M564 517h0M564 518h0M564 521h0M564 526h0M564 529h0M564 530h0M564 532h0M564 533h0M565 258h0M565 265h0M565 266h0M565 299h0M565 303h0M565 315h0M565 319h0M565 337h0M565 338h0M565 339h0M565 340h0M565 345h0M565 353h0M565 357h0M565 369h0M565 370h0M565 378h0M565 381h0M565 386h0M565 392h0M565 399h0M565 400h0M565 401h0M565 402h0M565 417h0M565 421h0M565 423h0M565 432h0M565 434h0M565 437h0M565 438h0M565 439h0M565 440h0M565 442h0M565 445h0M565 449h0M565 450h0M565 455h0M565 458h0M565 459h0M565 468h0M565 475h0M565 479h0M565 480h0M565 484h0M565 485h0M565 486h0M565 491h0M565 493h0M565 501h0M565 504h0M565 506h0M565 510h0M565 514h0M565 517h0M565 522h0M565 525h0M565 526h0M565 527h0M565 528h0M565 530h0M565 533h0M565 534h0M565 539h0M566 252h0M566 264h0M566 277h0M566 289h0M566 304h0M566 306h0M566 317h0M566 325h0M566 337h0M566 342h0M566 344h0M566 348h0M566 354h0M566 357h0M566 365h0M566 366h0M566 368h0M566 382h0M566 386h0M566 394h0M566 396h0M566 409h0M566 417h0M566 421h0M566 422h0M566 426h0M566 427h0M566 430h0M566 432h0M566 433h0M566 438h0M566 439h0M566 442h0M566 446h0M566 449h0M566 450h0M566 453h0M566 459h0M566 464h0M566 465h0M566 469h0M566 472h0M566 474h0M566 475h0M566 476h0M566 477h0M566 478h0M566 480h0M566 485h0M566 492h0M566 493h0M566 509h0M566 510h0M566 511h0M566 515h0M566 520h0M566 526h0M566 528h0M566 531h0M566 537h0M567 289h0M567 295h0M567 299h0M567 321h0M567 326h0M567 332h0M567 334h0M567 341h0M567 353h0M567 361h0M567 365h0M567 370h0M567 375h0M567 377h0M567 380h0M567 387h0M567 403h0M567 406h0M567 412h0M567 422h0M567 426h0M567 428h0M567 431h0M567 433h0M567 434h0M567 440h0M567 446h0M567 447h0M567 448h0M567 452h0M567 458h0M567 459h0M567 467h0M567 472h0M567 474h0M567 476h0M567 484h0M567 491h0M567 493h0M567 494h0M567 496h0M567 499h0M567 501h0M567 503h0M567 514h0M567 517h0M567 518h0M567 520h0M567 522h0M567 524h0M567 525h0M567 526h0M567 528h0M567 529h0M567 531h0M567 533h0M567 534h0M567 537h0M568 246h0M568 249h0M568 257h0M568 280h0M568 302h0M568 313h0M568 320h0M568 324h0M568 335h0M568 345h0M568 353h0M568 362h0M568 364h0M568 375h0M568 384h0M568 386h0M568 389h0M568 390h0M568 406h0M568 409h0M568 414h0M568 420h0M568 421h0M568 422h0M568 423h0M568 426h0M568 430h0M568 432h0M568 437h0M568 439h0M568 447h0M568 452h0M568 454h0M568 464h0M568 470h0M568 472h0M568 475h0M568 480h0M568 486h0M568 487h0M568 490h0M568 493h0M568 494h0M568 497h0M568 504h0M568 505h0M568 506h0M568 510h0M568 513h0M568 517h0M568 529h0M568 533h0M568 537h0M569 263h0M569 280h0M569 308h0M569 319h0M569 324h0M569 330h0M569 338h0M569 355h0M569 357h0M569 360h0M569 362h0M569 363h0M569 365h0M569 366h0M569 370h0M569 371h0M569 374h0M569 376h0M569 378h0M569 385h0M569 393h0M569 405h0M569 408h0M569 413h0M569 423h0M569 428h0M569 430h0M569 436h0M569 445h0M569 449h0M569 453h0M569 454h0M569 456h0M569 458h0M569 459h0M569 464h0M569 467h0M569 472h0M569 473h0M569 475h0M569 476h0M569 486h0M569 488h0M569 491h0M569 493h0M569 494h0M569 495h0M569 502h0M569 503h0M569 510h0M569 512h0M569 517h0M569 518h0M569 521h0M569 525h0M569 528h0M569 529h0M569 532h0M569 533h0M569 534h0M569 535h0M570 274h0M570 283h0M570 295h0M570 305h0M570 360h0M570 366h0M570 368h0M570 369h0M570 375h0M570 376h0M570 377h0M570 379h0M570 380h0M570 396h0M570 401h0M570 404h0M570 406h0M570 409h0M570 412h0M570 416h0M570 417h0M570 423h0M570 424h0M570 425h0M570 426h0M570 431h0M570 432h0M570 435h0M570 438h0M570 440h0M570 448h0M570 449h0M570 453h0M570 454h0M570 460h0M570 461h0M570 465h0M570 466h0M570 470h0M570 472h0M570 480h0M570 481h0M570 484h0M570 491h0M570 493h0M570 497h0M570 501h0M570 504h0M570 507h0M570 509h0M570 510h0M570 521h0M570 524h0M570 526h0M570 531h0M570 535h0M571 244h0M571 279h0M571 313h0M571 317h0M571 320h0M571 321h0M571 325h0M571 331h0M571 334h0M571 344h0M571 352h0M571 354h0M571 356h0M571 372h0M571 380h0M571 382h0M571 394h0M571 397h0M571 398h0M571 403h0M571 405h0M571 410h0M571 417h0M571 422h0M571 425h0M571 426h0M571 427h0M571 428h0M571 432h0M571 435h0M571 436h0M571 438h0M571 442h0M571 445h0M571 446h0M571 450h0M571 453h0M571 458h0M571 459h0M571 463h0M571 469h0M571 473h0M571 476h0M571 477h0M571 480h0M571 482h0M571 484h0M571 491h0M571 492h0M571 495h0M571 496h0M571 499h0M571 501h0M571 509h0M571 511h0M571 512h0M571 517h0M571 522h0M571 523h0M571 525h0M571 526h0M571 528h0M571 531h0M571 532h0M571 533h0M571 535h0M571 536h0M572 244h0M572 267h0M572 276h0M572 282h0M572 285h0M572 300h0M572 303h0M572 328h0M572 330h0M572 337h0M572 341h0M572 349h0M572 354h0M572 365h0M572 371h0M572 377h0M572 389h0M572 395h0M572 398h0M572 399h0M572 400h0M572 407h0M572 414h0M572 418h0M572 419h0M572 421h0M572 426h0M572 430h0M572 433h0M572 436h0M572 438h0M572 439h0M572 446h0M572 449h0M572 450h0M572 456h0M572 460h0M572 461h0M572 467h0M572 478h0M572 480h0M572 485h0M572 487h0M572 493h0M572 494h0M572 495h0M572 496h0M572 498h0M572 500h0M572 501h0M572 502h0M572 506h0M572 510h0M572 511h0M572 512h0M572 517h0M572 521h0M572 523h0M572 525h0M572 527h0M572 531h0M572 533h0M572 536h0M572 537h0M572 538h0M573 235h0M573 249h0M573 277h0M573 280h0M573 290h0M573 294h0M573 304h0M573 311h0M573 318h0M573 319h0M573 324h0M573 329h0M573 335h0M573 338h0M573 339h0M573 340h0M573 342h0M573 348h0M573 354h0M573 355h0M573 360h0M573 361h0M573 362h0M573 368h0M573 370h0M573 373h0M573 387h0M573 388h0M573 390h0M573 391h0M573 396h0M573 398h0M573 401h0M573 402h0M573 403h0M573 405h0M573 406h0M573 409h0M573 411h0M573 412h0M573 414h0M573 424h0M573 427h0M573 428h0M573 433h0M573 437h0M573 439h0M573 440h0M573 453h0M573 468h0M573 469h0M573 474h0M573 476h0M573 478h0M573 481h0M573 482h0M573 484h0M573 486h0M573 488h0M573 493h0M573 495h0M573 499h0M573 505h0M573 510h0M573 511h0M573 522h0M573 528h0M573 530h0M573 532h0M573 539h0M574 262h0M574 294h0M574 308h0M574 309h0M574 332h0M574 338h0M574 346h0M574 357h0M574 374h0M574 377h0M574 380h0M574 382h0M574 387h0M574 396h0M574 401h0M574 403h0M574 412h0M574 427h0M574 428h0M574 432h0M574 434h0M574 437h0M574 438h0M574 443h0M574 444h0M574 449h0M574 453h0M574 455h0M574 458h0M574 461h0M574 466h0M574 468h0M574 470h0M574 480h0M574 483h0M574 486h0M574 487h0M574 490h0M574 496h0M574 500h0M574 503h0M574 505h0M574 508h0M574 513h0M574 514h0M574 515h0M574 518h0M574 520h0M574 522h0M574 523h0M574 524h0M574 525h0M574 527h0M574 529h0M574 530h0M574 532h0M574 534h0M574 535h0M574 536h0M574 539h0M575 231h0M575 297h0M575 304h0M575 319h0M575 327h0M575 344h0M575 347h0M575 349h0M575 351h0M575 352h0M575 353h0M575 362h0M575 365h0M575 368h0M575 370h0M575 379h0M575 382h0M575 385h0M575 386h0M575 390h0M575 392h0M575 400h0M575 408h0M575 412h0M575 413h0M575 414h0M575 416h0M575 417h0M575 418h0M575 420h0M575 424h0M575 426h0M575 429h0M575 433h0M575 434h0M575 436h0M575 448h0M575 452h0M575 454h0M575 455h0M575 464h0M575 467h0M575 469h0M575 473h0M575 474h0M575 476h0M575 478h0M575 480h0M575 488h0M575 489h0M575 492h0M575 495h0M575 496h0M575 498h0M575 503h0M575 504h0M575 505h0M575 509h0M575 516h0M575 525h0M575 528h0M575 530h0M575 537h0M575 538h0M576 265h0M576 273h0M576 274h0M576 278h0M576 287h0M576 294h0M576 326h0M576 330h0M576 332h0M576 336h0M576 340h0M576 359h0M576 376h0M576 379h0M576 389h0M576 390h0M576 391h0M576 396h0M576 404h0M576 405h0M576 428h0M576 432h0M576 437h0M576 438h0M576 440h0M576 442h0M576 444h0M576 448h0M576 450h0M576 451h0M576 455h0M576 457h0M576 464h0M576 466h0M576 468h0M576 469h0M576 474h0M576 477h0M576 478h0M576 479h0M576 481h0M576 484h0M576 487h0M576 489h0M576 492h0M576 495h0M576 499h0M576 500h0M576 501h0M576 503h0M576 504h0M576 506h0M576 508h0M576 509h0M576 510h0M576 514h0M576 515h0M576 517h0M576 522h0M576 523h0M576 527h0M576 528h0M576 530h0M576 532h0M576 535h0M576 536h0M576 538h0M576 539h0M577 235h0M577 242h0M577 244h0M577 280h0M577 305h0M577 306h0M577 310h0M577 314h0M577 323h0M577 324h0M577 330h0M577 332h0M577 339h0M577 342h0M577 346h0M577 353h0M577 363h0M577 366h0M577 369h0M577 387h0M577 391h0M577 393h0M577 399h0M577 417h0M577 419h0M577 423h0M577 439h0M577 440h0M577 442h0M577 447h0M577 448h0M577 450h0M577 453h0M577 457h0M577 459h0M577 460h0M577 468h0M577 470h0M577 476h0M577 478h0M577 479h0M577 481h0M577 482h0M577 485h0M577 488h0M577 492h0M577 493h0M577 501h0M577 505h0M577 509h0M577 512h0M577 521h0M577 523h0M577 524h0M577 525h0M577 528h0M577 533h0M577 536h0M577 537h0M578 238h0M578 246h0M578 268h0M578 295h0M578 316h0M578 336h0M578 340h0M578 344h0M578 347h0M578 354h0M578 355h0M578 358h0M578 360h0M578 381h0M578 387h0M578 397h0M578 398h0M578 413h0M578 416h0M578 419h0M578 420h0M578 422h0M578 426h0M578 443h0M578 446h0M578 454h0M578 458h0M578 460h0M578 463h0M578 464h0M578 467h0M578 468h0M578 470h0M578 476h0M578 478h0M578 485h0M578 486h0M578 487h0M578 491h0M578 493h0M578 494h0M578 498h0M578 499h0M578 501h0M578 502h0M578 505h0M578 507h0M578 508h0M578 510h0M578 512h0M578 513h0M578 520h0M578 521h0M578 522h0M578 524h0M578 525h0M578 526h0M578 530h0M578 534h0M578 535h0M579 239h0M579 281h0M579 289h0M579 326h0M579 339h0M579 341h0M579 352h0M579 357h0M579 360h0M579 364h0M579 366h0M579 369h0M579 374h0M579 386h0M579 392h0M579 400h0M579 405h0M579 406h0M579 409h0M579 410h0M579 416h0M579 419h0M579 430h0M579 434h0M579 435h0M579 445h0M579 447h0M579 450h0M579 452h0M579 454h0M579 455h0M579 456h0M579 458h0M579 459h0M579 467h0M579 475h0M579 478h0M579 479h0M579 484h0M579 491h0M579 492h0M579 494h0M579 495h0M579 499h0M579 505h0M579 506h0M579 508h0M579 510h0M579 514h0M579 515h0M579 518h0M579 523h0M579 524h0M579 528h0M579 529h0M579 530h0M579 533h0M579 535h0M579 537h0M580 227h0M580 292h0M580 296h0M580 297h0M580 305h0M580 306h0M580 317h0M580 329h0M580 331h0M580 338h0M580 353h0M580 360h0M580 362h0M580 363h0M580 371h0M580 373h0M580 374h0M580 384h0M580 385h0M580 389h0M580 393h0M580 396h0M580 402h0M580 404h0M580 406h0M580 409h0M580 412h0M580 417h0M580 422h0M580 424h0M580 426h0M580 432h0M580 435h0M580 441h0M580 446h0M580 448h0M580 451h0M580 452h0M580 455h0M580 456h0M580 457h0M580 459h0M580 460h0M580 461h0M580 462h0M580 464h0M580 465h0M580 466h0M580 469h0M580 470h0M580 472h0M580 475h0M580 477h0M580 479h0M580 480h0M580 484h0M580 488h0M580 490h0M580 491h0M580 494h0M580 495h0M580 499h0M580 501h0M580 504h0M580 505h0M580 506h0M580 507h0M580 508h0M580 511h0M580 513h0M580 517h0M580 518h0M580 520h0M580 522h0M580 525h0M580 530h0M580 531h0M580 533h0M580 534h0M580 536h0M580 538h0M581 238h0M581 241h0M581 272h0M581 280h0M581 288h0M581 309h0M581 310h0M581 320h0M581 328h0M581 340h0M581 341h0M581 353h0M581 355h0M581 363h0M581 367h0M581 377h0M581 378h0M581 381h0M581 383h0M581 393h0M581 398h0M581 399h0M581 403h0M581 412h0M581 418h0M581 421h0M581 422h0M581 423h0M581 433h0M581 436h0M581 439h0M581 441h0M581 456h0M581 458h0M581 459h0M581 461h0M581 463h0M581 464h0M581 468h0M581 471h0M581 479h0M581 482h0M581 484h0M581 486h0M581 489h0M581 490h0M581 492h0M581 493h0M581 494h0M581 496h0M581 502h0M581 507h0M581 509h0M581 511h0M581 513h0M581 514h0M581 518h0M581 519h0M581 520h0M581 521h0M581 522h0M581 523h0M581 525h0M581 526h0M581 528h0M581 530h0M581 533h0M581 535h0M581 538h0M581 539h0M582 258h0M582 269h0M582 316h0M582 326h0M582 327h0M582 347h0M582 356h0M582 358h0M582 363h0M582 375h0M582 378h0M582 381h0M582 385h0M582 389h0M582 390h0M582 397h0M582 402h0M582 403h0M582 404h0M582 415h0M582 418h0M582 420h0M582 421h0M582 437h0M582 439h0M582 441h0M582 442h0M582 449h0M582 450h0M582 455h0M582 458h0M582 461h0M582 463h0M582 465h0M582 466h0M582 468h0M582 473h0M582 476h0M582 477h0M582 479h0M582 483h0M582 485h0M582 487h0M582 488h0M582 489h0M582 494h0M582 495h0M582 496h0M582 497h0M582 498h0M582 499h0M582 501h0M582 502h0M582 505h0M582 506h0M582 507h0M582 509h0M582 510h0M582 513h0M582 515h0M582 516h0M582 518h0M582 521h0M582 522h0M582 523h0M582 524h0M582 525h0M582 527h0M582 530h0M582 531h0M582 533h0M582 535h0M582 538h0M583 261h0M583 271h0M583 276h0M583 281h0M583 284h0M583 325h0M583 337h0M583 347h0M583 380h0M583 382h0M583 386h0M583 390h0M583 395h0M583 399h0M583 410h0M583 418h0M583 422h0M583 425h0M583 429h0M583 431h0M583 433h0M583 439h0M583 444h0M583 454h0M583 459h0M583 460h0M583 461h0M583 462h0M583 463h0M583 465h0M583 469h0M583 471h0M583 472h0M583 482h0M583 486h0M583 488h0M583 489h0M583 491h0M583 492h0M583 494h0M583 496h0M583 497h0M583 498h0M583 499h0M583 501h0M583 504h0M583 505h0M583 509h0M583 510h0M583 514h0M583 517h0M583 518h0M583 520h0M583 521h0M583 522h0M583 525h0M583 528h0M583 529h0M583 531h0M583 532h0M583 533h0M583 534h0M583 538h0M584 272h0M584 303h0M584 314h0M584 350h0M584 372h0M584 376h0M584 381h0M584 383h0M584 386h0M584 388h0M584 391h0M584 398h0M584 402h0M584 407h0M584 412h0M584 413h0M584 416h0M584 419h0M584 422h0M584 423h0M584 428h0M584 429h0M584 431h0M584 438h0M584 441h0M584 444h0M584 446h0M584 449h0M584 450h0M584 451h0M584 453h0M584 454h0M584 457h0M584 463h0M584 464h0M584 467h0M584 471h0M584 473h0M584 476h0M584 478h0M584 482h0M584 484h0M584 487h0M584 488h0M584 490h0M584 493h0M584 494h0M584 495h0M584 500h0M584 503h0M584 505h0M584 507h0M584 508h0M584 509h0M584 510h0M584 511h0M584 514h0M584 515h0M584 518h0M584 519h0M584 523h0M584 525h0M584 526h0M584 528h0M584 529h0M584 530h0M584 531h0M584 534h0M584 536h0M584 538h0M585 331h0M585 361h0M585 379h0M585 403h0M585 416h0M585 423h0M585 425h0M585 429h0M585 432h0M585 435h0M585 439h0M585 443h0M585 445h0M585 446h0M585 450h0M585 451h0M585 456h0M585 457h0M585 459h0M585 461h0M585 462h0M585 467h0M585 471h0M585 472h0M585 473h0M585 474h0M585 479h0M585 480h0M585 483h0M585 485h0M585 486h0M585 487h0M585 488h0M585 489h0M585 493h0M585 494h0M585 495h0M585 497h0M585 498h0M585 505h0M585 506h0M585 507h0M585 508h0M585 509h0M585 511h0M585 513h0M585 517h0M585 518h0M585 519h0M585 520h0M585 524h0M585 526h0M585 528h0M585 530h0M585 531h0M585 533h0M585 535h0M585 536h0M585 537h0M585 539h0M586 221h0M586 296h0M586 356h0M586 372h0M586 376h0M586 382h0M586 386h0M586 392h0M586 393h0M586 400h0M586 402h0M586 404h0M586 412h0M586 415h0M586 420h0M586 421h0M586 422h0M586 426h0M586 432h0M586 434h0M586 437h0M586 440h0M586 442h0M586 443h0M586 445h0M586 446h0M586 448h0M586 451h0M586 452h0M586 458h0M586 460h0M586 464h0M586 465h0M586 466h0M586 468h0M586 472h0M586 479h0M586 480h0M586 481h0M586 482h0M586 483h0M586 487h0M586 491h0M586 494h0M586 498h0M586 499h0M586 501h0M586 507h0M586 508h0M586 511h0M586 512h0M586 514h0M586 515h0M586 517h0M586 518h0M586 519h0M586 520h0M586 522h0M586 523h0M586 528h0M586 530h0M586 531h0M586 533h0M586 534h0M586 535h0M586 536h0M586 537h0M586 539h0M587 332h0M587 336h0M587 361h0M587 367h0M587 374h0M587 380h0M587 383h0M587 389h0M587 390h0M587 396h0M587 400h0M587 410h0M587 417h0M587 418h0M587 419h0M587 423h0M587 424h0M587 425h0M587 427h0M587 428h0M587 431h0M587 435h0M587 437h0M587 438h0M587 442h0M587 448h0M587 449h0M587 455h0M587 456h0M587 457h0M587 458h0M587 464h0M587 465h0M587 466h0M587 467h0M587 469h0M587 471h0M587 473h0M587 475h0M587 476h0M587 478h0M587 480h0M587 482h0M587 483h0M587 484h0M587 485h0M587 486h0M587 487h0M587 488h0M587 489h0M587 490h0M587 495h0M587 498h0M587 499h0M587 501h0M587 502h0M587 503h0M587 505h0M587 506h0M587 507h0M587 508h0M587 510h0M587 511h0M587 512h0M587 513h0M587 514h0M587 515h0M587 518h0M587 520h0M587 521h0M587 523h0M587 524h0M587 525h0M587 526h0M587 527h0M587 528h0M587 530h0M587 531h0M587 532h0M587 534h0M587 535h0M587 537h0M587 539h0M588 329h0M588 335h0M588 346h0M588 357h0M588 361h0M588 363h0M588 365h0M588 377h0M588 381h0M588 393h0M588 411h0M588 415h0M588 416h0M588 417h0M588 425h0M588 430h0M588 433h0M588 435h0M588 437h0M588 438h0M588 439h0M588 441h0M588 446h0M588 448h0M588 451h0M588 455h0M588 456h0M588 458h0M588 460h0M588 461h0M588 464h0M588 467h0M588 469h0M588 473h0M588 475h0M588 477h0M588 481h0M588 485h0M588 486h0M588 487h0M588 493h0M588 494h0M588 495h0M588 497h0M588 499h0M588 500h0M588 504h0M588 505h0M588 506h0M588 508h0M588 510h0M588 511h0M588 513h0M588 514h0M588 515h0M588 516h0M588 518h0M588 519h0M588 521h0M588 522h0M588 523h0M588 525h0M588 526h0M588 529h0M588 530h0M588 531h0M588 535h0M588 536h0M588 537h0M588 538h0M589 309h0M589 363h0M589 393h0M589 400h0M589 402h0M589 409h0M589 412h0M589 415h0M589 419h0M589 427h0M589 429h0M589 432h0M589 433h0M589 434h0M589 435h0M589 439h0M589 442h0M589 443h0M589 444h0M589 447h0M589 449h0M589 451h0M589 452h0M589 453h0M589 454h0M589 455h0M589 456h0M589 458h0M589 459h0M589 467h0M589 468h0M589 469h0M589 471h0M589 474h0M589 475h0M589 476h0M589 478h0M589 481h0M589 482h0M589 485h0M589 486h0M589 487h0M589 489h0M589 490h0M589 492h0M589 493h0M589 494h0M589 495h0M589 496h0M589 497h0M589 498h0M589 501h0M589 502h0M589 507h0M589 508h0M589 509h0M589 510h0M589 512h0M589 514h0M589 516h0M589 517h0M589 521h0M589 522h0M589 525h0M589 528h0M589 530h0M589 531h0M589 532h0M589 534h0M589 535h0M589 536h0M589 538h0M590 276h0M590 300h0M590 374h0M590 377h0M590 384h0M590 394h0M590 396h0M590 397h0M590 399h0M590 403h0M590 404h0M590 409h0M590 411h0M590 417h0M590 420h0M590 421h0M590 422h0M590 427h0M590 428h0M590 434h0M590 435h0M590 445h0M590 446h0M590 448h0M590 451h0M590 452h0M590 453h0M590 455h0M590 457h0M590 458h0M590 460h0M590 461h0M590 462h0M590 464h0M590 465h0M590 473h0M590 474h0M590 476h0M590 479h0M590 480h0M590 483h0M590 485h0M590 486h0M590 488h0M590 491h0M590 493h0M590 498h0M590 499h0M590 500h0M590 501h0M590 502h0M590 505h0M590 506h0M590 510h0M590 511h0M590 512h0M590 513h0M590 514h0M590 516h0M590 518h0M590 521h0M590 523h0M590 524h0M590 525h0M590 526h0M590 527h0M590 528h0M590 531h0M590 532h0M590 535h0M590 536h0M590 538h0M591 247h0M591 270h0M591 318h0M591 346h0M591 352h0M591 359h0M591 361h0M591 378h0M591 389h0M591 409h0M591 413h0M591 421h0M591 422h0M591 424h0M591 428h0M591 434h0M591 436h0M591 438h0M591 440h0M591 441h0M591 443h0M591 449h0M591 450h0M591 451h0M591 452h0M591 454h0M591 455h0M591 456h0M591 458h0M591 462h0M591 463h0M591 464h0M591 465h0M591 468h0M591 469h0M591 471h0M591 472h0M591 473h0M591 474h0M591 475h0M591 476h0M591 478h0M591 479h0M591 480h0M591 481h0M591 482h0M591 486h0M591 488h0M591 490h0M591 491h0M591 493h0M591 494h0M591 495h0M591 496h0M591 497h0M591 498h0M591 500h0M591 501h0M591 503h0M591 508h0M591 511h0M591 512h0M591 513h0M591 514h0M591 516h0M591 517h0M591 518h0M591 520h0M591 521h0M591 525h0M591 526h0M591 527h0M591 528h0M591 529h0M591 532h0M591 533h0M591 537h0M591 538h0M592 246h0M592 283h0M592 345h0M592 357h0M592 358h0M592 374h0M592 379h0M592 381h0M592 384h0M592 387h0M592 393h0M592 395h0M592 398h0M592 402h0M592 404h0M592 405h0M592 406h0M592 407h0M592 414h0M592 415h0M592 416h0M592 419h0M592 421h0M592 425h0M592 427h0M592 428h0M592 430h0M592 432h0M592 433h0M592 434h0M592 435h0M592 436h0M592 437h0M592 439h0M592 443h0M592 444h0M592 447h0M592 449h0M592 451h0M592 452h0M592 453h0M592 458h0M592 459h0M592 462h0M592 465h0M592 466h0M592 467h0M592 468h0M592 469h0M592 471h0M592 473h0M592 474h0M592 475h0M592 476h0M592 477h0M592 479h0M592 480h0M592 482h0M592 483h0M592 484h0M592 485h0M592 486h0M592 488h0M592 490h0M592 491h0M592 492h0M592 493h0M592 494h0M592 495h0M592 496h0M592 499h0M592 500h0M592 504h0M592 507h0M592 509h0M592 511h0M592 512h0M592 514h0M592 515h0M592 517h0M592 520h0M592 522h0M592 523h0M592 524h0M592 525h0M592 526h0M592 527h0M592 528h0M592 529h0M592 531h0M592 533h0M592 534h0M592 535h0M592 536h0M592 539h0M593 272h0M593 281h0M593 282h0M593 297h0M593 342h0M593 346h0M593 347h0M593 354h0M593 359h0M593 364h0M593 370h0M593 380h0M593 381h0M593 388h0M593 391h0M593 398h0M593 399h0M593 402h0M593 403h0M593 405h0M593 412h0M593 413h0M593 414h0M593 416h0M593 417h0M593 419h0M593 425h0M593 426h0M593 428h0M593 429h0M593 432h0M593 437h0M593 439h0M593 440h0M593 443h0M593 445h0M593 446h0M593 448h0M593 450h0M593 451h0M593 452h0M593 454h0M593 455h0M593 457h0M593 459h0M593 460h0M593 461h0M593 462h0M593 464h0M593 466h0M593 467h0M593 470h0M593 471h0M593 472h0M593 473h0M593 475h0M593 476h0M593 477h0M593 480h0M593 483h0M593 485h0M593 486h0M593 487h0M593 491h0M593 493h0M593 495h0M593 496h0M593 500h0M593 501h0M593 503h0M593 504h0M593 506h0M593 507h0M593 508h0M593 509h0M593 510h0M593 512h0M593 513h0M593 515h0M593 519h0M593 520h0M593 523h0M593 524h0M593 526h0M593 528h0M593 529h0M593 530h0M593 531h0M593 532h0M593 534h0M593 536h0M593 537h0M593 539h0M594 244h0M594 248h0M594 270h0M594 304h0M594 311h0M594 312h0M594 331h0M594 335h0M594 338h0M594 346h0M594 353h0M594 354h0M594 362h0M594 365h0M594 372h0M594 373h0M594 381h0M594 384h0M594 385h0M594 389h0M594 390h0M594 392h0M594 395h0M594 400h0M594 402h0M594 403h0M594 411h0M594 414h0M594 415h0M594 417h0M594 421h0M594 426h0M594 427h0M594 428h0M594 429h0M594 430h0M594 434h0M594 435h0M594 436h0M594 439h0M594 440h0M594 441h0M594 443h0M594 447h0M594 448h0M594 449h0M594 450h0M594 451h0M594 452h0M594 453h0M594 454h0M594 455h0M594 458h0M594 461h0M594 462h0M594 465h0M594 468h0M594 471h0M594 472h0M594 473h0M594 475h0M594 476h0M594 479h0M594 480h0M594 481h0M594 482h0M594 484h0M594 486h0M594 489h0M594 491h0M594 492h0M594 493h0M594 494h0M594 496h0M594 497h0M594 501h0M594 502h0M594 503h0M594 504h0M594 505h0M594 506h0M594 507h0M594 510h0M594 512h0M594 513h0M594 514h0M594 515h0M594 516h0M594 517h0M594 518h0M594 519h0M594 520h0M594 521h0M594 523h0M594 526h0M594 528h0M594 529h0M594 530h0M594 531h0M594 532h0M594 533h0M594 534h0M594 535h0M594 536h0M594 537h0M594 538h0M594 539h0M595 238h0M595 266h0M595 303h0M595 313h0M595 335h0M595 346h0M595 350h0M595 364h0M595 372h0M595 379h0M595 381h0M595 386h0M595 387h0M595 389h0M595 392h0M595 393h0M595 394h0M595 399h0M595 400h0M595 401h0M595 402h0M595 406h0M595 407h0M595 409h0M595 410h0M595 412h0M595 414h0M595 415h0M595 416h0M595 417h0M595 418h0M595 421h0M595 424h0M595 426h0M595 429h0M595 432h0M595 433h0M595 435h0M595 436h0M595 437h0M595 438h0M595 439h0M595 441h0M595 444h0M595 447h0M595 451h0M595 453h0M595 456h0M595 457h0M595 458h0M595 459h0M595 460h0M595 462h0M595 463h0M595 464h0M595 465h0M595 466h0M595 468h0M595 470h0M595 471h0M595 472h0M595 473h0M595 474h0M595 475h0M595 476h0M595 477h0M595 478h0M595 479h0M595 480h0M595 481h0M595 483h0M595 484h0M595 485h0M595 486h0M595 487h0M595 489h0M595 490h0M595 492h0M595 493h0M595 494h0M595 497h0M595 499h0M595 501h0M595 502h0M595 504h0M595 505h0M595 506h0M595 507h0M595 509h0M595 510h0M595 511h0M595 512h0M595 513h0M595 515h0M595 516h0M595 517h0M595 520h0M595 521h0M595 525h0M595 526h0M595 527h0M595 528h0M595 529h0M595 532h0M595 533h0M595 535h0M595 536h0M595 537h0M595 538h0M596 290h0M596 292h0M596 301h0M596 315h0M596 324h0M596 326h0M596 327h0M596 333h0M596 336h0M596 337h0M596 341h0M596 347h0M596 355h0M596 358h0M596 359h0M596 360h0M596 362h0M596 364h0M596 369h0M596 372h0M596 375h0M596 376h0M596 378h0M596 382h0M596 384h0M596 387h0M596 389h0M596 390h0M596 394h0M596 396h0M596 397h0M596 399h0M596 400h0M596 402h0M596 405h0M596 409h0M596 412h0M596 413h0M596 415h0M596 416h0M596 417h0M596 418h0M596 420h0M596 421h0M596 422h0M596 424h0M596 425h0M596 428h0M596 430h0M596 431h0M596 433h0M596 437h0M596 438h0M596 440h0M596 441h0M596 444h0M596 445h0M596 447h0M596 448h0M596 450h0M596 451h0M596 452h0M596 453h0M596 454h0M596 456h0M596 457h0M596 458h0M596 459h0M596 461h0M596 463h0M596 465h0M596 466h0M596 467h0M596 468h0M596 469h0M596 470h0M596 472h0M596 475h0M596 477h0M596 478h0M596 480h0M596 482h0M596 483h0M596 484h0M596 485h0M596 486h0M596 487h0M596 488h0M596 489h0M596 491h0M596 492h0M596 494h0M596 495h0M596 496h0M596 497h0M596 498h0M596 500h0M596 501h0M596 504h0M596 505h0M596 506h0M596 507h0M596 508h0M596 509h0M596 510h0M596 511h0M596 512h0M596 513h0M596 516h0M596 518h0M596 519h0M596 522h0M596 524h0M596 525h0M596 527h0M596 529h0M596 534h0M596 537h0M597 276h0M597 295h0M597 301h0M597 311h0M597 318h0M597 321h0M597 322h0M597 328h0M597 329h0M597 330h0M597 331h0M597 340h0M597 344h0M597 348h0M597 362h0M597 363h0M597 364h0M597 365h0M597 370h0M597 371h0M597 374h0M597 375h0M597 388h0M597 393h0M597 395h0M597 400h0M597 409h0M597 414h0M597 415h0M597 416h0M597 419h0M597 422h0M597 423h0M597 425h0M597 427h0M597 428h0M597 429h0M597 432h0M597 433h0M597 434h0M597 436h0M597 439h0M597 440h0M597 442h0M597 443h0M597 444h0M597 448h0M597 449h0M597 450h0M597 451h0M597 452h0M597 454h0M597 455h0M597 456h0M597 458h0M597 459h0M597 462h0M597 463h0M597 464h0M597 465h0M597 466h0M597 470h0M597 471h0M597 474h0M597 475h0M597 476h0M597 479h0M597 481h0M597 484h0M597 485h0M597 486h0M597 487h0M597 488h0M597 490h0M597 492h0M597 495h0M597 496h0M597 499h0M597 501h0M597 502h0M597 503h0M597 504h0M597 505h0M597 506h0M597 508h0M597 509h0M597 512h0M597 513h0M597 514h0M597 515h0M597 516h0M597 517h0M597 521h0M597 523h0M597 525h0M597 527h0M597 528h0M597 529h0M597 530h0M597 532h0M597 533h0M597 534h0M597 535h0M597 536h0M597 538h0M597 539h0M598 274h0M598 277h0M598 282h0M598 285h0M598 303h0M598 308h0M598 309h0M598 319h0M598 321h0M598 331h0M598 335h0M598 336h0M598 337h0M598 339h0M598 342h0M598 350h0M598 354h0M598 358h0M598 364h0M598 365h0M598 367h0M598 368h0M598 375h0M598 377h0M598 383h0M598 384h0M598 388h0M598 391h0M598 392h0M598 393h0M598 396h0M598 397h0M598 398h0M598 400h0M598 403h0M598 405h0M598 406h0M598 407h0M598 408h0M598 410h0M598 412h0M598 416h0M598 419h0M598 420h0M598 422h0M598 423h0M598 424h0M598 425h0M598 426h0M598 427h0M598 429h0M598 432h0M598 433h0M598 434h0M598 435h0M598 436h0M598 437h0M598 438h0M598 440h0M598 442h0M598 443h0M598 444h0M598 446h0M598 447h0M598 448h0M598 449h0M598 450h0M598 451h0M598 452h0M598 455h0M598 456h0M598 457h0M598 458h0M598 459h0M598 460h0M598 461h0M598 463h0M598 464h0M598 466h0M598 468h0M598 469h0M598 470h0M598 471h0M598 472h0M598 473h0M598 474h0M598 475h0M598 476h0M598 477h0M598 479h0M598 480h0M598 481h0M598 482h0M598 483h0M598 484h0M598 486h0M598 488h0M598 489h0M598 490h0M598 491h0M598 492h0M598 493h0M598 494h0M598 495h0M598 496h0M598 497h0M598 498h0M598 499h0M598 500h0M598 501h0M598 502h0M598 503h0M598 504h0M598 505h0M598 507h0M598 508h0M598 509h0M598 510h0M598 512h0M598 513h0M598 514h0M598 515h0M598 517h0M598 519h0M598 520h0M598 521h0M598 523h0M598 525h0M598 527h0M598 528h0M598 529h0M598 530h0M598 532h0M598 533h0M598 534h0M598 535h0M598 536h0M598 537h0M598 539h0M599 237h0M599 287h0M599 295h0M599 304h0M599 316h0M599 318h0M599 327h0M599 328h0M599 337h0M599 339h0M599 344h0M599 348h0M599 349h0M599 358h0M599 359h0M599 360h0M599 366h0M599 367h0M599 368h0M599 369h0M599 371h0M599 374h0M599 375h0M599 377h0M599 380h0M599 381h0M599 383h0M599 384h0M599 388h0M599 395h0M599 396h0M599 397h0M599 399h0M599 400h0M599 402h0M599 403h0M599 407h0M599 408h0M599 409h0M599 410h0M599 411h0M599 412h0M599 414h0M599 417h0M599 419h0M599 420h0M599 421h0M599 423h0M599 424h0M599 427h0M599 428h0M599 429h0M599 431h0M599 435h0M599 436h0M599 437h0M599 442h0M599 443h0M599 445h0M599 446h0M599 447h0M599 451h0M599 452h0M599 453h0M599 454h0M599 455h0M599 456h0M599 457h0M599 458h0M599 459h0M599 460h0M599 461h0M599 462h0M599 463h0M599 465h0M599 466h0M599 469h0M599 470h0M599 471h0M599 472h0M599 474h0M599 476h0M599 477h0M599 478h0M599 479h0M599 480h0M599 484h0M599 486h0M599 487h0M599 488h0M599 489h0M599 490h0M599 491h0M599 493h0M599 494h0M599 495h0M599 496h0M599 498h0M599 501h0M599 502h0M599 504h0M599 506h0M599 507h0M599 509h0M599 510h0M599 511h0M599 512h0M599 513h0M599 515h0M599 516h0M599 517h0M599 518h0M599 520h0M599 521h0M599 522h0M599 523h0M599 525h0M599 526h0M599 528h0M599 529h0M599 530h0M599 531h0M599 532h0M599 533h0M599 534h0M599 535h0M599 537h0M599 539h0M600 224h0M600 290h0M600 292h0M600 308h0M600 318h0M600 325h0M600 337h0M600 341h0M600 349h0M600 352h0M600 353h0M600 355h0M600 357h0M600 363h0M600 366h0M600 368h0M600 372h0M600 373h0M600 375h0M600 379h0M600 380h0M600 381h0M600 382h0M600 385h0M600 388h0M600 392h0M600 394h0M600 395h0M600 397h0M600 400h0M600 401h0M600 405h0M600 406h0M600 412h0M600 413h0M600 414h0M600 415h0M600 419h0M600 420h0M600 421h0M600 422h0M600 423h0M600 425h0M600 426h0M600 427h0M600 428h0M600 432h0M600 433h0M600 434h0M600 435h0M600 440h0M600 443h0M600 444h0M600 446h0M600 447h0M600 448h0M600 449h0M600 450h0M600 451h0M600 452h0M600 454h0M600 455h0M600 456h0M600 457h0M600 458h0M600 459h0M600 460h0M600 463h0M600 464h0M600 466h0M600 467h0M600 468h0M600 472h0M600 473h0M600 474h0M600 475h0M600 476h0M600 477h0M600 478h0M600 479h0M600 481h0M600 485h0M600 487h0M600 489h0M600 490h0M600 491h0M600 492h0M600 493h0M600 494h0M600 495h0M600 496h0M600 498h0M600 499h0M600 500h0M600 501h0M600 503h0M600 505h0M600 506h0M600 507h0M600 509h0M600 510h0M600 511h0M600 512h0M600 513h0M600 514h0M600 515h0M600 516h0M600 518h0M600 519h0M600 520h0M600 521h0M600 522h0M600 524h0M600 525h0M600 527h0M600 529h0M600 532h0M600 536h0M600 537h0M600 538h0M601 288h0M601 298h0M601 300h0M601 302h0M601 307h0M601 317h0M601 321h0M601 332h0M601 348h0M601 350h0M601 355h0M601 356h0M601 361h0M601 367h0M601 370h0M601 375h0M601 380h0M601 385h0M601 391h0M601 392h0M601 393h0M601 394h0M601 395h0M601 399h0M601 400h0M601 402h0M601 403h0M601 404h0M601 406h0M601 407h0M601 408h0M601 410h0M601 414h0M601 416h0M601 417h0M601 418h0M601 419h0M601 422h0M601 423h0M601 427h0M601 428h0M601 429h0M601 432h0M601 433h0M601 434h0M601 435h0M601 436h0M601 438h0M601 439h0M601 440h0M601 442h0M601 444h0M601 447h0M601 449h0M601 452h0M601 453h0M601 454h0M601 455h0M601 456h0M601 458h0M601 459h0M601 461h0M601 462h0M601 464h0M601 466h0M601 468h0M601 469h0M601 470h0M601 472h0M601 474h0M601 475h0M601 476h0M601 477h0M601 478h0M601 479h0M601 481h0M601 485h0M601 486h0M601 488h0M601 489h0M601 490h0M601 491h0M601 492h0M601 493h0M601 499h0M601 500h0M601 504h0M601 505h0M601 506h0M601 508h0M601 509h0M601 510h0M601 511h0M601 513h0M601 515h0M601 516h0M601 520h0M601 521h0M601 522h0M601 523h0M601 526h0M601 527h0M601 528h0M601 530h0M601 532h0M601 533h0M601 534h0M601 536h0M601 537h0M601 539h0M602 224h0M602 275h0M602 288h0M602 295h0M602 296h0M602 320h0M602 327h0M602 330h0M602 331h0M602 337h0M602 346h0M602 356h0M602 357h0M602 358h0M602 359h0M602 362h0M602 365h0M602 366h0M602 371h0M602 375h0M602 377h0M602 378h0M602 379h0M602 380h0M602 384h0M602 389h0M602 395h0M602 396h0M602 399h0M602 403h0M602 406h0M602 410h0M602 412h0M602 413h0M602 415h0M602 418h0M602 419h0M602 420h0M602 422h0M602 423h0M602 427h0M602 428h0M602 429h0M602 430h0M602 432h0M602 433h0M602 437h0M602 438h0M602 439h0M602 441h0M602 442h0M602 444h0M602 447h0M602 448h0M602 450h0M602 451h0M602 452h0M602 453h0M602 455h0M602 457h0M602 458h0M602 460h0M602 462h0M602 463h0M602 464h0M602 466h0M602 467h0M602 472h0M602 473h0M602 475h0M602 476h0M602 479h0M602 480h0M602 481h0M602 482h0M602 483h0M602 484h0M602 485h0M602 486h0M602 487h0M602 488h0M602 490h0M602 491h0M602 492h0M602 493h0M602 494h0M602 495h0M602 496h0M602 497h0M602 498h0M602 499h0M602 502h0M602 503h0M602 504h0M602 506h0M602 507h0M602 509h0M602 510h0M602 512h0M602 513h0M602 516h0M602 517h0M602 518h0M602 520h0M602 521h0M602 523h0M602 524h0M602 525h0M602 526h0M602 530h0M602 531h0M602 535h0M602 537h0M602 538h0M602 539h0M603 293h0M603 300h0M603 314h0M603 324h0M603 327h0M603 340h0M603 341h0M603 346h0M603 351h0M603 359h0M603 361h0M603 363h0M603 368h0M603 369h0M603 373h0M603 374h0M603 376h0M603 379h0M603 380h0M603 382h0M603 383h0M603 384h0M603 386h0M603 387h0M603 391h0M603 392h0M603 396h0M603 405h0M603 406h0M603 408h0M603 409h0M603 413h0M603 414h0M603 415h0M603 417h0M603 419h0M603 420h0M603 421h0M603 423h0M603 425h0M603 427h0M603 428h0M603 429h0M603 433h0M603 435h0M603 437h0M603 438h0M603 439h0M603 441h0M603 442h0M603 445h0M603 448h0M603 449h0M603 452h0M603 453h0M603 454h0M603 455h0M603 456h0M603 457h0M603 458h0M603 461h0M603 466h0M603 468h0M603 469h0M603 470h0M603 472h0M603 474h0M603 475h0M603 477h0M603 478h0M603 479h0M603 480h0M603 481h0M603 482h0M603 483h0M603 484h0M603 485h0M603 486h0M603 487h0M603 488h0M603 489h0M603 490h0M603 491h0M603 492h0M603 494h0M603 495h0M603 496h0M603 497h0M603 500h0M603 502h0M603 504h0M603 505h0M603 508h0M603 509h0M603 511h0M603 512h0M603 513h0M603 515h0M603 516h0M603 517h0M603 520h0M603 521h0M603 523h0M603 524h0M603 525h0M603 526h0M603 527h0M603 529h0M603 530h0M603 533h0M603 534h0M603 535h0M603 537h0M603 538h0M604 260h0M604 322h0M604 330h0M604 334h0M604 335h0M604 337h0M604 339h0M604 348h0M604 351h0M604 353h0M604 355h0M604 357h0M604 359h0M604 366h0M604 371h0M604 373h0M604 374h0M604 375h0M604 385h0M604 387h0M604 399h0M604 400h0M604 402h0M604 404h0M604 408h0M604 410h0M604 412h0M604 416h0M604 418h0M604 419h0M604 422h0M604 425h0M604 426h0M604 427h0M604 430h0M604 431h0M604 432h0M604 434h0M604 435h0M604 438h0M604 440h0M604 441h0M604 442h0M604 443h0M604 445h0M604 446h0M604 448h0M604 451h0M604 453h0M604 454h0M604 455h0M604 456h0M604 457h0M604 458h0M604 459h0M604 461h0M604 464h0M604 465h0M604 466h0M604 468h0M604 469h0M604 472h0M604 474h0M604 476h0M604 477h0M604 478h0M604 480h0M604 481h0M604 482h0M604 483h0M604 484h0M604 485h0M604 486h0M604 487h0M604 488h0M604 491h0M604 493h0M604 497h0M604 498h0M604 499h0M604 500h0M604 501h0M604 502h0M604 509h0M604 510h0M604 514h0M604 516h0M604 517h0M604 518h0M604 519h0M604 520h0M604 525h0M604 526h0M604 527h0M604 529h0M604 530h0M604 533h0M604 534h0M604 536h0M604 538h0M605 245h0M605 273h0M605 288h0M605 318h0M605 324h0M605 334h0M605 339h0M605 349h0M605 355h0M605 364h0M605 366h0M605 368h0M605 370h0M605 371h0M605 384h0M605 385h0M605 386h0M605 389h0M605 400h0M605 402h0M605 408h0M605 409h0M605 411h0M605 412h0M605 415h0M605 416h0M605 418h0M605 420h0M605 421h0M605 423h0M605 430h0M605 433h0M605 435h0M605 436h0M605 437h0M605 438h0M605 441h0M605 443h0M605 444h0M605 445h0M605 448h0M605 449h0M605 450h0M605 451h0M605 453h0M605 455h0M605 456h0M605 457h0M605 459h0M605 460h0M605 461h0M605 462h0M605 463h0M605 464h0M605 465h0M605 466h0M605 467h0M605 468h0M605 469h0M605 470h0M605 473h0M605 474h0M605 475h0M605 480h0M605 485h0M605 488h0M605 491h0M605 494h0M605 495h0M605 496h0M605 497h0M605 499h0M605 500h0M605 501h0M605 503h0M605 504h0M605 505h0M605 506h0M605 507h0M605 508h0M605 510h0M605 511h0M605 512h0M605 513h0M605 515h0M605 516h0M605 517h0M605 518h0M605 521h0M605 523h0M605 524h0M605 525h0M605 526h0M605 527h0M605 528h0M605 529h0M605 530h0M605 535h0M605 536h0M605 539h0M606 327h0M606 345h0M606 352h0M606 353h0M606 355h0M606 359h0M606 362h0M606 364h0M606 369h0M606 377h0M606 391h0M606 394h0M606 395h0M606 399h0M606 402h0M606 403h0M606 404h0M606 406h0M606 407h0M606 411h0M606 414h0M606 416h0M606 417h0M606 419h0M606 420h0M606 421h0M606 422h0M606 423h0M606 424h0M606 428h0M606 429h0M606 430h0M606 431h0M606 433h0M606 434h0M606 435h0M606 436h0M606 437h0M606 438h0M606 439h0M606 440h0M606 442h0M606 446h0M606 447h0M606 448h0M606 451h0M606 453h0M606 454h0M606 455h0M606 457h0M606 458h0M606 460h0M606 463h0M606 466h0M606 467h0M606 469h0M606 470h0M606 471h0M606 475h0M606 476h0M606 477h0M606 478h0M606 479h0M606 481h0M606 482h0M606 484h0M606 486h0M606 487h0M606 489h0M606 490h0M606 492h0M606 494h0M606 495h0M606 496h0M606 497h0M606 498h0M606 499h0M606 500h0M606 503h0M606 504h0M606 505h0M606 506h0M606 507h0M606 509h0M606 510h0M606 512h0M606 516h0M606 517h0M606 521h0M606 522h0M606 526h0M606 527h0M606 529h0M606 530h0M606 531h0M606 534h0M606 535h0M606 537h0M606 539h0M607 353h0M607 359h0M607 369h0M607 373h0M607 374h0M607 376h0M607 379h0M607 386h0M607 388h0M607 393h0M607 404h0M607 405h0M607 406h0M607 410h0M607 411h0M607 414h0M607 421h0M607 426h0M607 428h0M607 429h0M607 430h0M607 431h0M607 434h0M607 438h0M607 442h0M607 443h0M607 445h0M607 446h0M607 447h0M607 448h0M607 449h0M607 456h0M607 459h0M607 461h0M607 462h0M607 463h0M607 468h0M607 470h0M607 472h0M607 473h0M607 476h0M607 479h0M607 480h0M607 481h0M607 483h0M607 484h0M607 485h0M607 488h0M607 491h0M607 493h0M607 494h0M607 500h0M607 501h0M607 505h0M607 507h0M607 508h0M607 509h0M607 511h0M607 512h0M607 517h0M607 518h0M607 520h0M607 525h0M607 526h0M607 527h0M607 529h0M607 530h0M607 531h0M607 532h0M607 533h0M607 537h0M608 249h0M608 383h0M608 385h0M608 393h0M608 401h0M608 402h0M608 415h0M608 418h0M608 419h0M608 429h0M608 430h0M608 434h0M608 437h0M608 440h0M608 443h0M608 444h0M608 447h0M608 448h0M608 451h0M608 460h0M608 462h0M608 463h0M608 468h0M608 469h0M608 470h0M608 473h0M608 476h0M608 479h0M608 482h0M608 483h0M608 485h0M608 486h0M608 487h0M608 488h0M608 489h0M608 490h0M608 491h0M608 492h0M608 493h0M608 494h0M608 495h0M608 497h0M608 500h0M608 504h0M608 505h0M608 506h0M608 508h0M608 509h0M608 510h0M608 511h0M608 512h0M608 517h0M608 519h0M608 520h0M608 522h0M608 524h0M608 525h0M608 526h0M608 527h0M608 528h0M608 532h0M608 533h0M608 535h0M608 536h0M608 537h0M609 335h0M609 346h0M609 348h0M609 360h0M609 393h0M609 405h0M609 407h0M609 409h0M609 418h0M609 420h0M609 426h0M609 430h0M609 432h0M609 438h0M609 439h0M609 444h0M609 462h0M609 464h0M609 465h0M609 466h0M609 467h0M609 468h0M609 469h0M609 470h0M609 472h0M609 473h0M609 474h0M609 475h0M609 476h0M609 478h0M609 480h0M609 483h0M609 492h0M609 497h0M609 501h0M609 503h0M609 504h0M609 505h0M609 506h0M609 512h0M609 514h0M609 516h0M609 518h0M609 522h0M609 523h0M609 525h0M609 527h0M609 529h0M609 530h0M609 532h0M609 533h0M609 534h0M609 536h0M609 539h0M610 333h0M610 358h0M610 381h0M610 383h0M610 387h0M610 388h0M610 389h0M610 391h0M610 395h0M610 400h0M610 402h0M610 411h0M610 412h0M610 421h0M610 423h0M610 431h0M610 439h0M610 442h0M610 444h0M610 447h0M610 450h0M610 451h0M610 452h0M610 456h0M610 461h0M610 463h0M610 466h0M610 468h0M610 469h0M610 471h0M610 473h0M610 474h0M610 477h0M610 479h0M610 483h0M610 485h0M610 489h0M610 491h0M610 494h0M610 496h0M610 497h0M610 501h0M610 502h0M610 504h0M610 506h0M610 507h0M610 509h0M610 511h0M610 515h0M610 518h0M610 519h0M610 520h0M610 522h0M610 523h0M610 526h0M610 527h0M610 528h0M610 529h0M610 530h0M610 531h0M610 532h0M610 534h0M610 538h0M611 383h0M611 401h0M611 415h0M611 424h0M611 429h0M611 431h0M611 433h0M611 436h0M611 444h0M611 447h0M611 450h0M611 451h0M611 456h0M611 461h0M611 467h0M611 471h0M611 473h0M611 474h0M611 475h0M611 479h0M611 480h0M611 483h0M611 486h0M611 491h0M611 492h0M611 495h0M611 497h0M611 499h0M611 500h0M611 503h0M611 504h0M611 505h0M611 507h0M611 511h0M611 512h0M611 516h0M611 518h0M611 519h0M611 528h0M611 532h0M611 533h0M611 534h0M611 538h0M612 406h0M612 407h0M612 410h0M612 417h0M612 425h0M612 438h0M612 441h0M612 443h0M612 453h0M612 454h0M612 455h0M612 459h0M612 460h0M612 467h0M612 477h0M612 483h0M612 488h0M612 489h0M612 490h0M612 495h0M612 500h0M612 501h0M612 503h0M612 504h0M612 505h0M612 510h0M612 512h0M612 517h0M612 522h0M612 523h0M612 524h0M612 525h0M612 527h0M612 529h0M612 534h0M612 538h0M612 539h0M613 410h0M613 414h0M613 437h0M613 444h0M613 458h0M613 460h0M613 468h0M613 471h0M613 472h0M613 477h0M613 479h0M613 481h0M613 482h0M613 497h0M613 498h0M613 499h0M613 501h0M613 502h0M613 507h0M613 511h0M613 514h0M613 519h0M613 523h0M613 525h0M613 530h0M613 532h0M613 535h0M613 536h0M613 538h0M613 539h0M614 424h0M614 444h0M614 446h0M614 462h0M614 464h0M614 467h0M614 471h0M614 475h0M614 479h0M614 483h0M614 492h0M614 494h0M614 495h0M614 500h0M614 503h0M614 507h0M614 509h0M614 517h0M614 518h0M614 522h0M614 523h0M614 530h0M614 534h0M614 535h0M614 536h0M614 537h0M614 539h0M615 473h0M615 474h0M615 482h0M615 486h0M615 489h0M615 490h0M615 498h0M615 499h0M615 504h0M615 520h0M615 529h0M615 533h0M615 534h0M615 539h0M616 331h0M616 471h0M616 475h0M616 477h0M616 484h0M616 487h0M616 492h0M616 501h0M616 505h0M616 510h0M616 518h0M616 522h0M616 523h0M616 524h0M616 526h0M616 531h0M616 535h0M616 537h0M616 538h0M617 493h0M617 502h0M617 508h0M617 510h0M617 514h0M617 519h0M617 520h0M617 522h0M617 527h0M617 528h0M617 532h0M617 533h0M617 539h0M618 445h0M618 448h0M618 454h0M618 471h0M618 473h0M618 474h0M618 487h0M618 492h0M618 497h0M618 503h0M618 518h0M618 525h0M618 530h0M618 533h0M618 535h0M618 538h0M618 539h0M619 484h0M619 502h0M619 504h0M619 528h0M619 538h0M620 501h0M620 505h0M620 526h0M620 531h0M620 535h0M620 539h0M621 492h0M621 493h0M621 494h0M621 527h0M621 533h0M622 497h0M622 502h0M622 505h0M622 510h0M622 521h0M622 529h0M622 534h0M623 499h0M623 512h0M623 517h0M623 521h0M623 533h0M623 534h0M624 508h0M624 515h0M624 535h0M624 536h0M625 534h0M626 522h0M626 535h0M627 519h0M627 522h0M629 501h0M629 522h0M632 487h0M640 532h0M645 508h0M650 495h0M659 512h0" stroke="#000" stroke-width="2.3" stroke-linecap="round" fill="none"/>
<path d="M166 435h0M171 502h0M172 473h0M172 513h0M175 358h0M175 481h0M177 455h0M178 446h0M178 459h0M179 479h0M180 450h0M180 465h0M181 411h0M181 466h0M183 495h0M183 508h0M184 345h0M185 339h0M185 368h0M185 493h0M186 367h0M187 354h0M187 404h0M187 462h0M188 331h0M188 358h0M188 406h0M188 407h0M188 442h0M189 340h0M189 367h0M189 375h0M189 381h0M189 408h0M189 423h0M189 429h0M189 468h0M189 492h0M190 354h0M190 368h0M190 409h0M190 436h0M190 441h0M190 454h0M191 336h0M191 356h0M191 392h0M192 367h0M192 383h0M192 426h0M192 440h0M192 448h0M192 456h0M192 458h0M192 472h0M193 330h0M193 335h0M193 348h0M193 349h0M193 354h0M193 400h0M193 412h0M193 420h0M193 438h0M193 459h0M193 466h0M193 478h0M193 501h0M194 369h0M194 386h0M194 396h0M194 400h0M194 419h0M194 433h0M194 439h0M194 441h0M194 464h0M195 327h0M195 408h0M195 440h0M195 450h0M196 338h0M196 349h0M196 354h0M196 366h0M196 380h0M196 404h0M196 409h0M196 418h0M196 457h0M196 481h0M197 338h0M197 361h0M197 367h0M197 369h0M197 376h0M197 393h0M197 396h0M197 401h0M197 410h0M197 425h0M197 427h0M197 433h0M197 441h0M197 454h0M197 460h0M197 495h0M197 509h0M198 346h0M198 356h0M198 358h0M198 380h0M198 397h0M198 417h0M198 424h0M198 440h0M198 446h0M198 448h0M198 453h0M198 460h0M198 473h0M199 342h0M199 376h0M199 381h0M199 384h0M199 395h0M199 406h0M199 413h0M199 452h0M200 334h0M200 340h0M200 368h0M200 398h0M200 416h0M200 420h0M200 423h0M200 428h0M200 436h0M200 446h0M200 494h0M201 339h0M201 350h0M201 373h0M201 381h0M201 386h0M201 387h0M201 414h0M201 436h0M201 460h0M201 464h0M201 485h0M201 496h0M201 498h0M202 330h0M202 352h0M202 374h0M202 385h0M202 407h0M202 409h0M202 411h0M202 429h0M202 441h0M202 452h0M202 455h0M202 460h0M202 508h0M203 334h0M203 353h0M203 360h0M203 382h0M203 414h0M203 422h0M203 431h0M203 432h0M203 448h0M203 469h0M204 340h0M204 346h0M204 355h0M204 363h0M204 383h0M204 398h0M204 403h0M204 413h0M204 436h0M204 445h0M204 453h0M204 455h0M204 470h0M204 476h0M204 481h0M204 497h0M204 506h0M205 335h0M205 348h0M205 374h0M205 376h0M205 379h0M205 403h0M205 423h0M205 425h0M205 452h0M205 459h0M206 343h0M206 352h0M206 371h0M206 388h0M206 406h0M206 418h0M206 427h0M206 440h0M206 446h0M206 466h0M206 480h0M207 346h0M207 378h0M207 386h0M207 401h0M207 407h0M207 441h0M207 453h0M207 458h0M207 473h0M207 477h0M207 483h0M207 501h0M207 509h0M208 340h0M208 402h0M208 413h0M208 433h0M208 447h0M208 454h0M208 463h0M208 473h0M208 482h0M208 504h0M209 329h0M209 374h0M209 393h0M209 400h0M209 406h0M209 454h0M209 463h0M209 476h0M209 481h0M210 354h0M210 407h0M210 410h0M210 418h0M210 425h0M210 439h0M210 489h0M211 345h0M211 356h0M211 404h0M211 413h0M211 418h0M211 433h0M211 461h0M211 487h0M212 413h0M212 431h0M212 436h0M212 478h0M213 347h0M213 355h0M213 367h0M213 377h0M213 420h0M213 422h0M213 428h0M213 435h0M213 450h0M213 457h0M214 327h0M214 340h0M214 373h0M214 429h0M214 462h0M214 474h0M214 501h0M215 276h0M215 321h0M215 336h0M215 425h0M215 447h0M215 492h0M215 499h0M215 506h0M216 338h0M216 344h0M216 353h0M216 369h0M216 418h0M216 435h0M216 440h0M216 461h0M216 464h0M217 314h0M217 354h0M217 359h0M217 371h0M217 386h0M217 393h0M217 425h0M217 428h0M217 433h0M217 436h0M217 437h0M217 442h0M217 456h0M217 481h0M218 343h0M218 348h0M218 355h0M218 396h0M218 417h0M218 456h0M219 317h0M219 346h0M219 356h0M219 372h0M219 434h0M219 511h0M220 286h0M220 331h0M220 347h0M220 374h0M221 372h0M221 374h0M222 341h0M223 376h0M225 337h0M225 345h0M226 319h0M226 342h0M226 376h0M227 274h0M227 301h0M227 311h0M228 345h0M228 356h0M229 312h0M229 320h0M230 276h0M230 320h0M231 355h0M232 296h0M233 340h0M234 345h0M235 318h0M235 325h0M235 370h0M237 369h0M238 369h0M238 376h0M239 359h0M239 361h0M240 305h0M240 365h0M241 268h0M242 298h0M242 333h0M242 350h0M242 371h0M244 249h0M244 345h0M246 321h0M246 360h0M247 369h0M248 352h0M248 361h0M249 376h0M250 285h0M250 380h0M251 331h0M251 356h0M252 361h0M253 368h0M254 373h0M255 256h0" stroke="#008000" stroke-width="2.3" stroke-linecap="round" fill="none"/>
<path d="" stroke="#ffa500" stroke-width="1.6" stroke-linecap="round" fill="none"/>
<path d="M203 228h0M209 228h0M180 234h0M216 235h0M192 239h0M202 238h0M213 241h0M194 245h0M209 247h0M181 248h0M195 252h0M211 255h0M212 259h0M213 260h0M194 261h0M188 265h0M194 268h0M215 268h0M187 272h0M194 273h0M183 274h0M208 275h0M216 274h0M189 278h0M193 280h0M202 281h0M218 281h0M188 283h0M204 284h0M198 286h0M189 287h0M188 291h0M203 292h0M194 293h0M198 293h0M214 297h0M197 299h0M197 303h0" stroke="#0000ff" stroke-width="4.6" stroke-linecap="round" fill="none" opacity="0.3"/>
<path d="M203 228h0M209 228h0M180 234h0M216 235h0M192 239h0M202 238h0M213 241h0M194 245h0M209 247h0M181 248h0M195 252h0M211 255h0M212 259h0M213 260h0M194 261h0M188 265h0M194 268h0M215 268h0M187 272h0M194 273h0M183 274h0M208 275h0M216 274h0M189 278h0M193 280h0M202 281h0M218 281h0M188 283h0M204 284h0M198 286h0M189 287h0M188 291h0M203 292h0M194 293h0M198 293h0M214 297h0M197 299h0M197 303h0" stroke="#0000ff" stroke-width="3" stroke-linecap="square" fill="none"/>
<path d="M202 224h0M203 242h0M204 249h0M201 251h0M196 251h0M201 254h0M200 256h0M181 259h0M187 263h0M195 266h0M210 266h0M212 270h0M214 271h0M184 271h0M198 272h0M205 273h0M189 274h0M219 276h0M185 277h0M210 280h0M208 284h0M219 285h0M187 286h0M199 288h0M204 289h0M184 292h0M182 294h0M204 294h0M189 297h0M192 297h0M199 300h0M201 299h0M205 299h0M213 300h0M219 299h0M190 302h0M193 303h0M201 302h0M208 302h0M190 304h0M192 305h0M203 305h0M205 306h0M200 306h0M212 305h0M185 307h0M192 308h0M213 310h0M192 312h0M200 312h0M203 313h0M208 312h0M206 314h0M209 313h0M200 313h0M193 315h0M192 316h0M203 316h0M217 315h0M218 316h0M179 320h0M182 321h0M198 320h0M203 323h0M217 322h0M198 325h0M200 326h0M203 324h0M211 327h0" stroke="#add8e6" stroke-width="2.3" stroke-linecap="round" fill="none"/>
</g>
<rect x="100.5" y="60.5" width="282" height="480" fill="none" stroke="#000" stroke-width="1.39"/>
<g shape-rendering="crispEdges" stroke="#4f4f4f" stroke-width="1" fill="none">
<path d="M115.5 540v-3M115.5 61v3M130.5 540v-3M130.5 61v3M144.5 540v-6M144.5 61v6M159.5 540v-3M159.5 61v3M174.5 540v-3M174.5 61v3M189.5 540v-3M189.5 61v3M204.5 540v-3M204.5 61v3M219.5 540v-6M219.5 61v6M233.5 540v-3M233.5 61v3M248.5 540v-3M248.5 61v3M263.5 540v-3M263.5 61v3M278.5 540v-3M278.5 61v3M293.5 540v-6M293.5 61v6M308.5 540v-3M308.5 61v3M322.5 540v-3M322.5 61v3M337.5 540v-3M337.5 61v3M352.5 540v-3M352.5 61v3M367.5 540v-6M367.5 61v6M101 71.5h3M382 71.5h-3M101 81.5h3M382 81.5h-3M101 92.5h3M382 92.5h-3M101 103.5h3M382 103.5h-3M101 113.5h6M382 113.5h-6M101 124.5h3M382 124.5h-3M101 135.5h3M382 135.5h-3M101 145.5h3M382 145.5h-3M101 156.5h3M382 156.5h-3M101 167.5h6M382 167.5h-6M101 177.5h3M382 177.5h-3M101 188.5h3M382 188.5h-3M101 199.5h3M382 199.5h-3M101 209.5h3M382 209.5h-3M101 220.5h6M382 220.5h-6M101 231.5h3M382 231.5h-3M101 241.5h3M382 241.5h-3M101 252.5h3M382 252.5h-3M101 263.5h3M382 263.5h-3M101 273.5h6M382 273.5h-6M101 284.5h3M382 284.5h-3M101 295.5h3M382 295.5h-3M101 305.5h3M382 305.5h-3M101 316.5h3M382 316.5h-3M101 327.5h6M382 327.5h-6M101 337.5h3M382 337.5h-3M101 348.5h3M382 348.5h-3M101 359.5h3M382 359.5h-3M101 369.5h3M382 369.5h-3M101 380.5h6M382 380.5h-6M101 391.5h3M382 391.5h-3M101 401.5h3M382 401.5h-3M101 412.5h3M382 412.5h-3M101 423.5h3M382 423.5h-3M101 433.5h6M382 433.5h-6M101 444.5h3M382 444.5h-3M101 455.5h3M382 455.5h-3M101 465.5h3M382 465.5h-3M101 476.5h3M382 476.5h-3M101 487.5h6M382 487.5h-6M101 497.5h3M382 497.5h-3M101 508.5h3M382 508.5h-3M101 519.5h3M382 519.5h-3M101 529.5h3M382 529.5h-3"/>
</g>
<text x="144.5" y="558" font-size="16.67" text-anchor="middle">0.0</text>
<text x="218.7" y="558" font-size="16.67" text-anchor="middle">0.5</text>
<text x="292.8" y="558" font-size="16.67" text-anchor="middle">1.0</text>
<text x="367.0" y="558" font-size="16.67" text-anchor="middle">1.5</text>
<text x="94" y="65.1" font-size="16.67" text-anchor="end">9</text>
<text x="94" y="117.7" font-size="16.67" text-anchor="end">10</text>
<text x="94" y="171.1" font-size="16.67" text-anchor="end">11</text>
<text x="94" y="224.4" font-size="16.67" text-anchor="end">12</text>
<text x="94" y="277.7" font-size="16.67" text-anchor="end">13</text>
<text x="94" y="331.1" font-size="16.67" text-anchor="end">14</text>
<text x="94" y="384.4" font-size="16.67" text-anchor="end">15</text>
<text x="94" y="437.7" font-size="16.67" text-anchor="end">16</text>
<text x="94" y="491.1" font-size="16.67" text-anchor="end">17</text>
<text x="94" y="544.4" font-size="16.67" text-anchor="end">18</text>
<rect x="438.5" y="60.5" width="282" height="480" fill="none" stroke="#000" stroke-width="1.39"/>
<g shape-rendering="crispEdges" stroke="#4f4f4f" stroke-width="1" fill="none">
<path d="M453.5 540v-3M453.5 61v3M468.5 540v-3M468.5 61v3M483.5 540v-6M483.5 61v6M498.5 540v-3M498.5 61v3M512.5 540v-3M512.5 61v3M527.5 540v-3M527.5 61v3M542.5 540v-3M542.5 61v3M557.5 540v-6M557.5 61v6M572.5 540v-3M572.5 61v3M587.5 540v-3M587.5 61v3M601.5 540v-3M601.5 61v3M616.5 540v-3M616.5 61v3M631.5 540v-6M631.5 61v6M646.5 540v-3M646.5 61v3M661.5 540v-3M661.5 61v3M676.5 540v-3M676.5 61v3M690.5 540v-3M690.5 61v3M705.5 540v-6M705.5 61v6M439 71.5h3M720 71.5h-3M439 81.5h3M720 81.5h-3M439 92.5h3M720 92.5h-3M439 103.5h3M720 103.5h-3M439 113.5h6M720 113.5h-6M439 124.5h3M720 124.5h-3M439 135.5h3M720 135.5h-3M439 145.5h3M720 145.5h-3M439 156.5h3M720 156.5h-3M439 167.5h6M720 167.5h-6M439 177.5h3M720 177.5h-3M439 188.5h3M720 188.5h-3M439 199.5h3M720 199.5h-3M439 209.5h3M720 209.5h-3M439 220.5h6M720 220.5h-6M439 231.5h3M720 231.5h-3M439 241.5h3M720 241.5h-3M439 252.5h3M720 252.5h-3M439 263.5h3M720 263.5h-3M439 273.5h6M720 273.5h-6M439 284.5h3M720 284.5h-3M439 295.5h3M720 295.5h-3M439 305.5h3M720 305.5h-3M439 316.5h3M720 316.5h-3M439 327.5h6M720 327.5h-6M439 337.5h3M720 337.5h-3M439 348.5h3M720 348.5h-3M439 359.5h3M720 359.5h-3M439 369.5h3M720 369.5h-3M439 380.5h6M720 380.5h-6M439 391.5h3M720 391.5h-3M439 401.5h3M720 401.5h-3M439 412.5h3M720 412.5h-3M439 423.5h3M720 423.5h-3M439 433.5h6M720 433.5h-6M439 444.5h3M720 444.5h-3M439 455.5h3M720 455.5h-3M439 465.5h3M720 465.5h-3M439 476.5h3M720 476.5h-3M439 487.5h6M720 487.5h-6M439 497.5h3M720 497.5h-3M439 508.5h3M720 508.5h-3M439 519.5h3M720 519.5h-3M439 529.5h3M720 529.5h-3"/>
</g>
<text x="482.7" y="558" font-size="16.67" text-anchor="middle">0.0</text>
<text x="556.8" y="558" font-size="16.67" text-anchor="middle">0.5</text>
<text x="631.0" y="558" font-size="16.67" text-anchor="middle">1.0</text>
<text x="705.2" y="558" font-size="16.67" text-anchor="middle">1.5</text>
<text x="432" y="65.1" font-size="16.67" text-anchor="end">9</text>
<text x="432" y="117.7" font-size="16.67" text-anchor="end">10</text>
<text x="432" y="171.1" font-size="16.67" text-anchor="end">11</text>
<text x="432" y="224.4" font-size="16.67" text-anchor="end">12</text>
<text x="432" y="277.7" font-size="16.67" text-anchor="end">13</text>
<text x="432" y="331.1" font-size="16.67" text-anchor="end">14</text>
<text x="432" y="384.4" font-size="16.67" text-anchor="end">15</text>
<text x="432" y="437.7" font-size="16.67" text-anchor="end">16</text>
<text x="432" y="491.1" font-size="16.67" text-anchor="end">17</text>
<text x="432" y="544.4" font-size="16.67" text-anchor="end">18</text>
<text x="241" y="580" font-size="16.67" text-anchor="middle">J-K</text>
<text transform="translate(65,300.5) rotate(-90)" font-size="16.67" text-anchor="middle">J</text>
<text y="52.9" font-size="20.8"><tspan x="61.2" textLength="237" lengthAdjust="spacingAndGlyphs">GES_MW_100136-320000</tspan> <tspan x="305.4" textLength="114.6" lengthAdjust="spacingAndGlyphs">E(B-V)=0.10</tspan></text>
<rect x="234.5" y="67.5" width="141" height="88" fill="#fff" stroke="#000" stroke-width="1.39"/>
<text y="84" font-size="14.4"><tspan x="277.8" textLength="29.6" lengthAdjust="spacingAndGlyphs">main</tspan> <tspan x="313.0" textLength="55.6" lengthAdjust="spacingAndGlyphs">GIRAFFE</tspan></text>
<text y="104.5" font-size="14.4"><tspan x="277.8" textLength="31.2" lengthAdjust="spacingAndGlyphs">extra</tspan> <tspan x="313.8" textLength="55.8" lengthAdjust="spacingAndGlyphs">GIRAFFE</tspan></text>
<text y="125.5" font-size="14.4"><tspan x="277.8" textLength="29.6" lengthAdjust="spacingAndGlyphs">main</tspan> <tspan x="313.0" textLength="35.2" lengthAdjust="spacingAndGlyphs">UVES</tspan></text>
<text y="146.4" font-size="14.4"><tspan x="277.8" textLength="31.2" lengthAdjust="spacingAndGlyphs">extra</tspan> <tspan x="313.8" textLength="35.2" lengthAdjust="spacingAndGlyphs">UVES</tspan></text>
<g transform="translate(.5 .5)" stroke-linecap="round" fill="none"><path d="M253 79h0" stroke="#008000" stroke-width="2.3"/><path d="M253 100h0" stroke="#ffa500" stroke-width="1.3"/><path d="M253 121h0" stroke="#0000ff" stroke-width="4.6" opacity="0.3"/><path d="M253 121h0" stroke="#0000ff" stroke-width="3" stroke-linecap="square"/><path d="M253 141h0" stroke="#add8e6" stroke-width="2.3"/></g>
</svg></body></html>
